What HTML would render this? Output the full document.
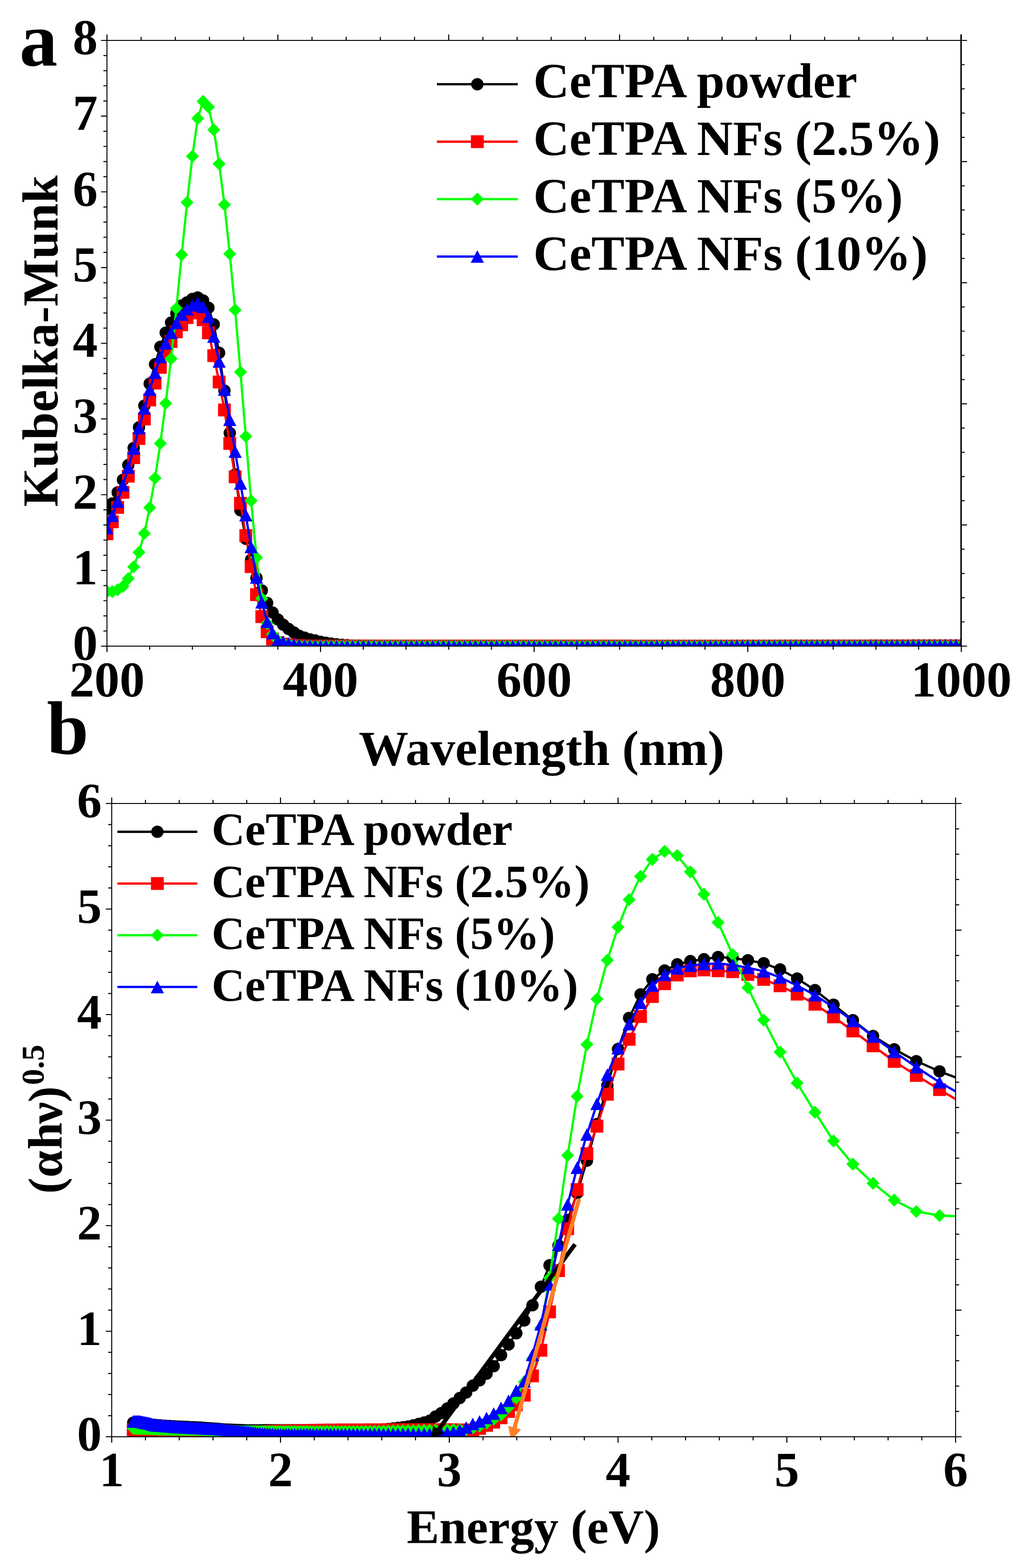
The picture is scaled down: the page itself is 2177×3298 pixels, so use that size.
<!DOCTYPE html><html><head><meta charset="utf-8"><title>Kubelka-Munk</title><style>html,body{margin:0;padding:0;background:#fff}svg{display:block}text{font-family:"Liberation Serif","Times New Roman",serif;font-weight:bold;fill:#000}</style></head><body>
<svg width="2177" height="3298" viewBox="0 0 2177 3298">
<rect width="2177" height="3298" fill="#fff"/>
<defs><clipPath id="ca"><rect x="225" y="85" width="1797" height="1274"/></clipPath><clipPath id="cb"><rect x="235" y="1690" width="1775" height="1332"/></clipPath></defs>
<g clip-path="url(#ca)">
<polyline points="225,1070.8 236.2,1059 247.5,1035.7 258.7,1009.3 269.9,978.1 281.2,942.2 292.4,898.8 303.6,853.2 314.9,807 326.1,766.1 337.3,729.5 348.5,699.7 359.8,678.5 371,658.9 382.2,642.5 393.5,636 404.7,628.8 415.9,625.7 427.2,632 438.4,647.3 449.6,682.2 460.9,742.1 472.1,821.7 483.3,910.7 494.6,998.3 505.8,1073.3 517,1133 528.2,1177.5 539.5,1215.7 550.7,1242 561.9,1268.2 573.2,1288.2 584.4,1302.9 595.6,1313.9 606.9,1322.7 618.1,1330.2 629.3,1337.2 640.6,1341.3 651.8,1344.7 663,1347.1 674.2,1350 685.5,1352 696.7,1353.7 707.9,1355.2 719.2,1356.3 730.4,1357 741.6,1357.7 752.9,1358 764.1,1358.2 775.3,1358.3 786.6,1358.5 797.8,1358.5 809,1358.6 820.3,1358.6 831.5,1358.7 842.7,1358.7 854,1358.7 865.2,1358.7 876.4,1358.7 887.6,1358.7 898.9,1358.7 910.1,1358.7 921.3,1358.7 932.6,1358.7 943.8,1358.7 955,1358.7 966.3,1358.7 977.5,1358.7 988.7,1358.7 1000,1358.7 1011.2,1358.7 1022.4,1358.7 1033.7,1358.7 1044.9,1358.7 1056.1,1358.7 1067.3,1358.7 1078.6,1358.7 1089.8,1358.7 1101,1358.7 1112.3,1358.7 1123.5,1358.7 1134.7,1358.7 1146,1358.7 1157.2,1358.7 1168.4,1358.7 1179.7,1358.7 1190.9,1358.7 1202.1,1358.7 1213.3,1358.7 1224.6,1358.7 1235.8,1358.7 1247,1358.7 1258.3,1358.7 1269.5,1358.7 1280.7,1358.7 1292,1358.7 1303.2,1358.7 1314.4,1358.7 1325.7,1358.7 1336.9,1358.7 1348.1,1358.6 1359.4,1358.6 1370.6,1358.6 1381.8,1358.6 1393,1358.6 1404.3,1358.6 1415.5,1358.6 1426.7,1358.6 1438,1358.6 1449.2,1358.5 1460.4,1358.5 1471.7,1358.5 1482.9,1358.5 1494.1,1358.4 1505.4,1358.4 1516.6,1358.4 1527.8,1358.4 1539.1,1358.4 1550.3,1358.3 1561.5,1358.3 1572.8,1358.3 1584,1358.3 1595.2,1358.2 1606.4,1358.2 1617.7,1358.2 1628.9,1358.2 1640.1,1358.2 1651.4,1358.1 1662.6,1358.1 1673.8,1358.1 1685.1,1358.1 1696.3,1358.1 1707.5,1358.1 1718.8,1358 1730,1358 1741.2,1358 1752.5,1358 1763.7,1358 1774.9,1357.9 1786.1,1357.9 1797.4,1357.9 1808.6,1357.9 1819.8,1357.9 1831.1,1357.8 1842.3,1357.8 1853.5,1357.8 1864.8,1357.8 1876,1357.7 1887.2,1357.7 1898.5,1357.7 1909.7,1357.7 1920.9,1357.6 1932.2,1357.6 1943.4,1357.6 1954.6,1357.5 1965.8,1357.5 1977.1,1357.5 1988.3,1357.4 1999.5,1357.4 2010.8,1357.4 2022,1357.3 2033.2,1357.3" fill="none" stroke="#000000" stroke-width="4.8" stroke-linejoin="round"/>
<path d="M212 1070.8a13 13 0 1 0 26 0a13 13 0 1 0-26 0M223.2 1059a13 13 0 1 0 26 0a13 13 0 1 0-26 0M234.5 1035.7a13 13 0 1 0 26 0a13 13 0 1 0-26 0M245.7 1009.3a13 13 0 1 0 26 0a13 13 0 1 0-26 0M256.9 978.1a13 13 0 1 0 26 0a13 13 0 1 0-26 0M268.2 942.2a13 13 0 1 0 26 0a13 13 0 1 0-26 0M279.4 898.8a13 13 0 1 0 26 0a13 13 0 1 0-26 0M290.6 853.2a13 13 0 1 0 26 0a13 13 0 1 0-26 0M301.9 807a13 13 0 1 0 26 0a13 13 0 1 0-26 0M313.1 766.1a13 13 0 1 0 26 0a13 13 0 1 0-26 0M324.3 729.5a13 13 0 1 0 26 0a13 13 0 1 0-26 0M335.5 699.7a13 13 0 1 0 26 0a13 13 0 1 0-26 0M346.8 678.5a13 13 0 1 0 26 0a13 13 0 1 0-26 0M358 658.9a13 13 0 1 0 26 0a13 13 0 1 0-26 0M369.2 642.5a13 13 0 1 0 26 0a13 13 0 1 0-26 0M380.5 636a13 13 0 1 0 26 0a13 13 0 1 0-26 0M391.7 628.8a13 13 0 1 0 26 0a13 13 0 1 0-26 0M402.9 625.7a13 13 0 1 0 26 0a13 13 0 1 0-26 0M414.2 632a13 13 0 1 0 26 0a13 13 0 1 0-26 0M425.4 647.3a13 13 0 1 0 26 0a13 13 0 1 0-26 0M436.6 682.2a13 13 0 1 0 26 0a13 13 0 1 0-26 0M447.9 742.1a13 13 0 1 0 26 0a13 13 0 1 0-26 0M459.1 821.7a13 13 0 1 0 26 0a13 13 0 1 0-26 0M470.3 910.7a13 13 0 1 0 26 0a13 13 0 1 0-26 0M481.6 998.3a13 13 0 1 0 26 0a13 13 0 1 0-26 0M492.8 1073.3a13 13 0 1 0 26 0a13 13 0 1 0-26 0M504 1133a13 13 0 1 0 26 0a13 13 0 1 0-26 0M515.2 1177.5a13 13 0 1 0 26 0a13 13 0 1 0-26 0M526.5 1215.7a13 13 0 1 0 26 0a13 13 0 1 0-26 0M537.7 1242a13 13 0 1 0 26 0a13 13 0 1 0-26 0M548.9 1268.2a13 13 0 1 0 26 0a13 13 0 1 0-26 0M560.2 1288.2a13 13 0 1 0 26 0a13 13 0 1 0-26 0M571.4 1302.9a13 13 0 1 0 26 0a13 13 0 1 0-26 0M582.6 1313.9a13 13 0 1 0 26 0a13 13 0 1 0-26 0M593.9 1322.7a13 13 0 1 0 26 0a13 13 0 1 0-26 0M605.1 1330.2a13 13 0 1 0 26 0a13 13 0 1 0-26 0M616.3 1337.2a13 13 0 1 0 26 0a13 13 0 1 0-26 0M627.6 1341.3a13 13 0 1 0 26 0a13 13 0 1 0-26 0M638.8 1344.7a13 13 0 1 0 26 0a13 13 0 1 0-26 0M650 1347.1a13 13 0 1 0 26 0a13 13 0 1 0-26 0M661.2 1350a13 13 0 1 0 26 0a13 13 0 1 0-26 0M672.5 1352a13 13 0 1 0 26 0a13 13 0 1 0-26 0M683.7 1353.7a13 13 0 1 0 26 0a13 13 0 1 0-26 0M694.9 1355.2a13 13 0 1 0 26 0a13 13 0 1 0-26 0M706.2 1356.3a13 13 0 1 0 26 0a13 13 0 1 0-26 0M717.4 1357a13 13 0 1 0 26 0a13 13 0 1 0-26 0M728.6 1357.7a13 13 0 1 0 26 0a13 13 0 1 0-26 0M739.9 1358a13 13 0 1 0 26 0a13 13 0 1 0-26 0M751.1 1358.2a13 13 0 1 0 26 0a13 13 0 1 0-26 0M762.3 1358.3a13 13 0 1 0 26 0a13 13 0 1 0-26 0M773.6 1358.5a13 13 0 1 0 26 0a13 13 0 1 0-26 0M784.8 1358.5a13 13 0 1 0 26 0a13 13 0 1 0-26 0M796 1358.6a13 13 0 1 0 26 0a13 13 0 1 0-26 0M807.3 1358.6a13 13 0 1 0 26 0a13 13 0 1 0-26 0M818.5 1358.7a13 13 0 1 0 26 0a13 13 0 1 0-26 0M829.7 1358.7a13 13 0 1 0 26 0a13 13 0 1 0-26 0M841 1358.7a13 13 0 1 0 26 0a13 13 0 1 0-26 0M852.2 1358.7a13 13 0 1 0 26 0a13 13 0 1 0-26 0M863.4 1358.7a13 13 0 1 0 26 0a13 13 0 1 0-26 0M874.6 1358.7a13 13 0 1 0 26 0a13 13 0 1 0-26 0M885.9 1358.7a13 13 0 1 0 26 0a13 13 0 1 0-26 0M897.1 1358.7a13 13 0 1 0 26 0a13 13 0 1 0-26 0M908.3 1358.7a13 13 0 1 0 26 0a13 13 0 1 0-26 0M919.6 1358.7a13 13 0 1 0 26 0a13 13 0 1 0-26 0M930.8 1358.7a13 13 0 1 0 26 0a13 13 0 1 0-26 0M942 1358.7a13 13 0 1 0 26 0a13 13 0 1 0-26 0M953.3 1358.7a13 13 0 1 0 26 0a13 13 0 1 0-26 0M964.5 1358.7a13 13 0 1 0 26 0a13 13 0 1 0-26 0M975.7 1358.7a13 13 0 1 0 26 0a13 13 0 1 0-26 0M987 1358.7a13 13 0 1 0 26 0a13 13 0 1 0-26 0M998.2 1358.7a13 13 0 1 0 26 0a13 13 0 1 0-26 0M1009.4 1358.7a13 13 0 1 0 26 0a13 13 0 1 0-26 0M1020.7 1358.7a13 13 0 1 0 26 0a13 13 0 1 0-26 0M1031.9 1358.7a13 13 0 1 0 26 0a13 13 0 1 0-26 0M1043.1 1358.7a13 13 0 1 0 26 0a13 13 0 1 0-26 0M1054.3 1358.7a13 13 0 1 0 26 0a13 13 0 1 0-26 0M1065.6 1358.7a13 13 0 1 0 26 0a13 13 0 1 0-26 0M1076.8 1358.7a13 13 0 1 0 26 0a13 13 0 1 0-26 0M1088 1358.7a13 13 0 1 0 26 0a13 13 0 1 0-26 0M1099.3 1358.7a13 13 0 1 0 26 0a13 13 0 1 0-26 0M1110.5 1358.7a13 13 0 1 0 26 0a13 13 0 1 0-26 0M1121.7 1358.7a13 13 0 1 0 26 0a13 13 0 1 0-26 0M1133 1358.7a13 13 0 1 0 26 0a13 13 0 1 0-26 0M1144.2 1358.7a13 13 0 1 0 26 0a13 13 0 1 0-26 0M1155.4 1358.7a13 13 0 1 0 26 0a13 13 0 1 0-26 0M1166.7 1358.7a13 13 0 1 0 26 0a13 13 0 1 0-26 0M1177.9 1358.7a13 13 0 1 0 26 0a13 13 0 1 0-26 0M1189.1 1358.7a13 13 0 1 0 26 0a13 13 0 1 0-26 0M1200.3 1358.7a13 13 0 1 0 26 0a13 13 0 1 0-26 0M1211.6 1358.7a13 13 0 1 0 26 0a13 13 0 1 0-26 0M1222.8 1358.7a13 13 0 1 0 26 0a13 13 0 1 0-26 0M1234 1358.7a13 13 0 1 0 26 0a13 13 0 1 0-26 0M1245.3 1358.7a13 13 0 1 0 26 0a13 13 0 1 0-26 0M1256.5 1358.7a13 13 0 1 0 26 0a13 13 0 1 0-26 0M1267.7 1358.7a13 13 0 1 0 26 0a13 13 0 1 0-26 0M1279 1358.7a13 13 0 1 0 26 0a13 13 0 1 0-26 0M1290.2 1358.7a13 13 0 1 0 26 0a13 13 0 1 0-26 0M1301.4 1358.7a13 13 0 1 0 26 0a13 13 0 1 0-26 0M1312.7 1358.7a13 13 0 1 0 26 0a13 13 0 1 0-26 0M1323.9 1358.7a13 13 0 1 0 26 0a13 13 0 1 0-26 0M1335.1 1358.6a13 13 0 1 0 26 0a13 13 0 1 0-26 0M1346.4 1358.6a13 13 0 1 0 26 0a13 13 0 1 0-26 0M1357.6 1358.6a13 13 0 1 0 26 0a13 13 0 1 0-26 0M1368.8 1358.6a13 13 0 1 0 26 0a13 13 0 1 0-26 0M1380 1358.6a13 13 0 1 0 26 0a13 13 0 1 0-26 0M1391.3 1358.6a13 13 0 1 0 26 0a13 13 0 1 0-26 0M1402.5 1358.6a13 13 0 1 0 26 0a13 13 0 1 0-26 0M1413.7 1358.6a13 13 0 1 0 26 0a13 13 0 1 0-26 0M1425 1358.6a13 13 0 1 0 26 0a13 13 0 1 0-26 0M1436.2 1358.5a13 13 0 1 0 26 0a13 13 0 1 0-26 0M1447.4 1358.5a13 13 0 1 0 26 0a13 13 0 1 0-26 0M1458.7 1358.5a13 13 0 1 0 26 0a13 13 0 1 0-26 0M1469.9 1358.5a13 13 0 1 0 26 0a13 13 0 1 0-26 0M1481.1 1358.4a13 13 0 1 0 26 0a13 13 0 1 0-26 0M1492.4 1358.4a13 13 0 1 0 26 0a13 13 0 1 0-26 0M1503.6 1358.4a13 13 0 1 0 26 0a13 13 0 1 0-26 0M1514.8 1358.4a13 13 0 1 0 26 0a13 13 0 1 0-26 0M1526.1 1358.4a13 13 0 1 0 26 0a13 13 0 1 0-26 0M1537.3 1358.3a13 13 0 1 0 26 0a13 13 0 1 0-26 0M1548.5 1358.3a13 13 0 1 0 26 0a13 13 0 1 0-26 0M1559.8 1358.3a13 13 0 1 0 26 0a13 13 0 1 0-26 0M1571 1358.3a13 13 0 1 0 26 0a13 13 0 1 0-26 0M1582.2 1358.2a13 13 0 1 0 26 0a13 13 0 1 0-26 0M1593.4 1358.2a13 13 0 1 0 26 0a13 13 0 1 0-26 0M1604.7 1358.2a13 13 0 1 0 26 0a13 13 0 1 0-26 0M1615.9 1358.2a13 13 0 1 0 26 0a13 13 0 1 0-26 0M1627.1 1358.2a13 13 0 1 0 26 0a13 13 0 1 0-26 0M1638.4 1358.1a13 13 0 1 0 26 0a13 13 0 1 0-26 0M1649.6 1358.1a13 13 0 1 0 26 0a13 13 0 1 0-26 0M1660.8 1358.1a13 13 0 1 0 26 0a13 13 0 1 0-26 0M1672.1 1358.1a13 13 0 1 0 26 0a13 13 0 1 0-26 0M1683.3 1358.1a13 13 0 1 0 26 0a13 13 0 1 0-26 0M1694.5 1358.1a13 13 0 1 0 26 0a13 13 0 1 0-26 0M1705.8 1358a13 13 0 1 0 26 0a13 13 0 1 0-26 0M1717 1358a13 13 0 1 0 26 0a13 13 0 1 0-26 0M1728.2 1358a13 13 0 1 0 26 0a13 13 0 1 0-26 0M1739.5 1358a13 13 0 1 0 26 0a13 13 0 1 0-26 0M1750.7 1358a13 13 0 1 0 26 0a13 13 0 1 0-26 0M1761.9 1357.9a13 13 0 1 0 26 0a13 13 0 1 0-26 0M1773.1 1357.9a13 13 0 1 0 26 0a13 13 0 1 0-26 0M1784.4 1357.9a13 13 0 1 0 26 0a13 13 0 1 0-26 0M1795.6 1357.9a13 13 0 1 0 26 0a13 13 0 1 0-26 0M1806.8 1357.9a13 13 0 1 0 26 0a13 13 0 1 0-26 0M1818.1 1357.8a13 13 0 1 0 26 0a13 13 0 1 0-26 0M1829.3 1357.8a13 13 0 1 0 26 0a13 13 0 1 0-26 0M1840.5 1357.8a13 13 0 1 0 26 0a13 13 0 1 0-26 0M1851.8 1357.8a13 13 0 1 0 26 0a13 13 0 1 0-26 0M1863 1357.7a13 13 0 1 0 26 0a13 13 0 1 0-26 0M1874.2 1357.7a13 13 0 1 0 26 0a13 13 0 1 0-26 0M1885.5 1357.7a13 13 0 1 0 26 0a13 13 0 1 0-26 0M1896.7 1357.7a13 13 0 1 0 26 0a13 13 0 1 0-26 0M1907.9 1357.6a13 13 0 1 0 26 0a13 13 0 1 0-26 0M1919.2 1357.6a13 13 0 1 0 26 0a13 13 0 1 0-26 0M1930.4 1357.6a13 13 0 1 0 26 0a13 13 0 1 0-26 0M1941.6 1357.5a13 13 0 1 0 26 0a13 13 0 1 0-26 0M1952.8 1357.5a13 13 0 1 0 26 0a13 13 0 1 0-26 0M1964.1 1357.5a13 13 0 1 0 26 0a13 13 0 1 0-26 0M1975.3 1357.4a13 13 0 1 0 26 0a13 13 0 1 0-26 0M1986.5 1357.4a13 13 0 1 0 26 0a13 13 0 1 0-26 0M1997.8 1357.4a13 13 0 1 0 26 0a13 13 0 1 0-26 0M2009 1357.3a13 13 0 1 0 26 0a13 13 0 1 0-26 0M2020.2 1357.3a13 13 0 1 0 26 0a13 13 0 1 0-26 0" fill="#000000"/>
<polyline points="225,1122.7 236.2,1097.4 247.5,1067.3 258.7,1035.4 269.9,1001.6 281.2,962.6 292.4,922.3 303.6,881.2 314.9,841.3 326.1,805.8 337.3,772.8 348.5,744 359.8,718.3 371,698.1 382.2,683 393.5,667.9 404.7,658.3 415.9,658.3 427.2,672.6 438.4,699.9 449.6,748 460.9,803.5 472.1,862.3 483.3,932.8 494.6,1003.1 505.8,1058.7 517,1126.5 528.2,1191.8 539.5,1250.7 550.7,1296.9 561.9,1328.7 573.2,1343.9 584.4,1351.8 595.6,1354.7 606.9,1356.3 618.1,1357.4 629.3,1358.1 640.6,1358.4 651.8,1358.7 663,1358.8 674.2,1358.8 685.5,1358.8 696.7,1358.8 707.9,1358.8 719.2,1358.8 730.4,1358.8 741.6,1358.8 752.9,1358.7 764.1,1358.7 775.3,1358.7 786.6,1358.7 797.8,1358.7 809,1358.7 820.3,1358.7 831.5,1358.7 842.7,1358.7 854,1358.7 865.2,1358.7 876.4,1358.7 887.6,1358.7 898.9,1358.7 910.1,1358.7 921.3,1358.7 932.6,1358.7 943.8,1358.7 955,1358.7 966.3,1358.7 977.5,1358.7 988.7,1358.7 1000,1358.7 1011.2,1358.7 1022.4,1358.7 1033.7,1358.7 1044.9,1358.7 1056.1,1358.7 1067.3,1358.7 1078.6,1358.7 1089.8,1358.7 1101,1358.7 1112.3,1358.7 1123.5,1358.7 1134.7,1358.8 1146,1358.8 1157.2,1358.8 1168.4,1358.8 1179.7,1358.8 1190.9,1358.8 1202.1,1358.8 1213.3,1358.8 1224.6,1358.8 1235.8,1358.8 1247,1358.8 1258.3,1358.8 1269.5,1358.8 1280.7,1358.8 1292,1358.8 1303.2,1358.8 1314.4,1358.8 1325.7,1358.9 1336.9,1358.9 1348.1,1358.9 1359.4,1358.9 1370.6,1358.9 1381.8,1358.9 1393,1358.9 1404.3,1358.9 1415.5,1358.9 1426.7,1358.9 1438,1358.9 1449.2,1358.9 1460.4,1358.9 1471.7,1358.9 1482.9,1358.9 1494.1,1358.9 1505.4,1358.9 1516.6,1358.9 1527.8,1358.9 1539.1,1358.9 1550.3,1358.9 1561.5,1358.9 1572.8,1358.9 1584,1358.9 1595.2,1358.9 1606.4,1358.9 1617.7,1358.9 1628.9,1358.9 1640.1,1358.9 1651.4,1358.9 1662.6,1358.9 1673.8,1358.9 1685.1,1358.9 1696.3,1358.9 1707.5,1358.9 1718.8,1358.9 1730,1358.9 1741.2,1358.9 1752.5,1358.9 1763.7,1358.8 1774.9,1358.8 1786.1,1358.8 1797.4,1358.8 1808.6,1358.8 1819.8,1358.8 1831.1,1358.8 1842.3,1358.8 1853.5,1358.8 1864.8,1358.8 1876,1358.8 1887.2,1358.8 1898.5,1358.8 1909.7,1358.8 1920.9,1358.8 1932.2,1358.8 1943.4,1358.8 1954.6,1358.8 1965.8,1358.8 1977.1,1358.7 1988.3,1358.7 1999.5,1358.7 2010.8,1358.7 2022,1358.7 2033.2,1358.7" fill="none" stroke="#ff0000" stroke-width="4.8" stroke-linejoin="round"/>
<path d="M211.5 1109.2h27v27h-27zM222.7 1083.9h27v27h-27zM234 1053.8h27v27h-27zM245.2 1021.9h27v27h-27zM256.4 988.1h27v27h-27zM267.7 949.1h27v27h-27zM278.9 908.8h27v27h-27zM290.1 867.8h27v27h-27zM301.4 827.8h27v27h-27zM312.6 792.3h27v27h-27zM323.8 759.3h27v27h-27zM335 730.5h27v27h-27zM346.3 704.8h27v27h-27zM357.5 684.6h27v27h-27zM368.7 669.5h27v27h-27zM380 654.4h27v27h-27zM391.2 644.8h27v27h-27zM402.4 644.8h27v27h-27zM413.7 659.1h27v27h-27zM424.9 686.4h27v27h-27zM436.1 734.5h27v27h-27zM447.4 790h27v27h-27zM458.6 848.8h27v27h-27zM469.8 919.3h27v27h-27zM481.1 989.6h27v27h-27zM492.3 1045.2h27v27h-27zM503.5 1113h27v27h-27zM514.7 1178.3h27v27h-27zM526 1237.2h27v27h-27zM537.2 1283.4h27v27h-27zM548.4 1315.2h27v27h-27zM559.7 1330.4h27v27h-27zM570.9 1338.3h27v27h-27zM582.1 1341.2h27v27h-27zM593.4 1342.8h27v27h-27zM604.6 1343.9h27v27h-27zM615.8 1344.6h27v27h-27zM627.1 1344.9h27v27h-27zM638.3 1345.2h27v27h-27zM649.5 1345.3h27v27h-27zM660.8 1345.3h27v27h-27zM672 1345.3h27v27h-27zM683.2 1345.3h27v27h-27zM694.4 1345.3h27v27h-27zM705.7 1345.3h27v27h-27zM716.9 1345.3h27v27h-27zM728.1 1345.3h27v27h-27zM739.4 1345.2h27v27h-27zM750.6 1345.2h27v27h-27zM761.8 1345.2h27v27h-27zM773.1 1345.2h27v27h-27zM784.3 1345.2h27v27h-27zM795.5 1345.2h27v27h-27zM806.8 1345.2h27v27h-27zM818 1345.2h27v27h-27zM829.2 1345.2h27v27h-27zM840.5 1345.2h27v27h-27zM851.7 1345.2h27v27h-27zM862.9 1345.2h27v27h-27zM874.1 1345.2h27v27h-27zM885.4 1345.2h27v27h-27zM896.6 1345.2h27v27h-27zM907.8 1345.2h27v27h-27zM919.1 1345.2h27v27h-27zM930.3 1345.2h27v27h-27zM941.5 1345.2h27v27h-27zM952.8 1345.2h27v27h-27zM964 1345.2h27v27h-27zM975.2 1345.2h27v27h-27zM986.5 1345.2h27v27h-27zM997.7 1345.2h27v27h-27zM1008.9 1345.2h27v27h-27zM1020.2 1345.2h27v27h-27zM1031.4 1345.2h27v27h-27zM1042.6 1345.2h27v27h-27zM1053.8 1345.2h27v27h-27zM1065.1 1345.2h27v27h-27zM1076.3 1345.2h27v27h-27zM1087.5 1345.2h27v27h-27zM1098.8 1345.2h27v27h-27zM1110 1345.2h27v27h-27zM1121.2 1345.3h27v27h-27zM1132.5 1345.3h27v27h-27zM1143.7 1345.3h27v27h-27zM1154.9 1345.3h27v27h-27zM1166.2 1345.3h27v27h-27zM1177.4 1345.3h27v27h-27zM1188.6 1345.3h27v27h-27zM1199.8 1345.3h27v27h-27zM1211.1 1345.3h27v27h-27zM1222.3 1345.3h27v27h-27zM1233.5 1345.3h27v27h-27zM1244.8 1345.3h27v27h-27zM1256 1345.3h27v27h-27zM1267.2 1345.3h27v27h-27zM1278.5 1345.3h27v27h-27zM1289.7 1345.3h27v27h-27zM1300.9 1345.3h27v27h-27zM1312.2 1345.4h27v27h-27zM1323.4 1345.4h27v27h-27zM1334.6 1345.4h27v27h-27zM1345.9 1345.4h27v27h-27zM1357.1 1345.4h27v27h-27zM1368.3 1345.4h27v27h-27zM1379.5 1345.4h27v27h-27zM1390.8 1345.4h27v27h-27zM1402 1345.4h27v27h-27zM1413.2 1345.4h27v27h-27zM1424.5 1345.4h27v27h-27zM1435.7 1345.4h27v27h-27zM1446.9 1345.4h27v27h-27zM1458.2 1345.4h27v27h-27zM1469.4 1345.4h27v27h-27zM1480.6 1345.4h27v27h-27zM1491.9 1345.4h27v27h-27zM1503.1 1345.4h27v27h-27zM1514.3 1345.4h27v27h-27zM1525.6 1345.4h27v27h-27zM1536.8 1345.4h27v27h-27zM1548 1345.4h27v27h-27zM1559.2 1345.4h27v27h-27zM1570.5 1345.4h27v27h-27zM1581.7 1345.4h27v27h-27zM1592.9 1345.4h27v27h-27zM1604.2 1345.4h27v27h-27zM1615.4 1345.4h27v27h-27zM1626.6 1345.4h27v27h-27zM1637.9 1345.4h27v27h-27zM1649.1 1345.4h27v27h-27zM1660.3 1345.4h27v27h-27zM1671.6 1345.4h27v27h-27zM1682.8 1345.4h27v27h-27zM1694 1345.4h27v27h-27zM1705.3 1345.4h27v27h-27zM1716.5 1345.4h27v27h-27zM1727.7 1345.4h27v27h-27zM1739 1345.4h27v27h-27zM1750.2 1345.3h27v27h-27zM1761.4 1345.3h27v27h-27zM1772.6 1345.3h27v27h-27zM1783.9 1345.3h27v27h-27zM1795.1 1345.3h27v27h-27zM1806.3 1345.3h27v27h-27zM1817.6 1345.3h27v27h-27zM1828.8 1345.3h27v27h-27zM1840 1345.3h27v27h-27zM1851.3 1345.3h27v27h-27zM1862.5 1345.3h27v27h-27zM1873.7 1345.3h27v27h-27zM1885 1345.3h27v27h-27zM1896.2 1345.3h27v27h-27zM1907.4 1345.3h27v27h-27zM1918.7 1345.3h27v27h-27zM1929.9 1345.3h27v27h-27zM1941.1 1345.3h27v27h-27zM1952.3 1345.3h27v27h-27zM1963.6 1345.2h27v27h-27zM1974.8 1345.2h27v27h-27zM1986 1345.2h27v27h-27zM1997.3 1345.2h27v27h-27zM2008.5 1345.2h27v27h-27zM2019.7 1345.2h27v27h-27z" fill="#ff0000"/>
<polyline points="225,1244.3 236.2,1244.3 247.5,1240.5 258.7,1233.2 269.9,1216.9 281.2,1192.3 292.4,1161.8 303.6,1121.9 314.9,1067.6 326.1,1005.6 337.3,932.4 348.5,848.4 359.8,754.5 371,648.7 382.2,535.7 393.5,425.8 404.7,328.7 415.9,249 427.2,213.2 438.4,225.1 449.6,272.9 460.9,344.6 472.1,430.6 483.3,534.1 494.6,651.9 505.8,782.5 517,917.9 528.2,1053.2 539.5,1172.7 550.7,1258.7 561.9,1311.2 573.2,1334.2 584.4,1346.6 595.6,1352.6 606.9,1355.3 618.1,1356.9 629.3,1357.6 640.6,1358.2 651.8,1358.5 663,1358.7 674.2,1358.8 685.5,1358.8 696.7,1358.8 707.9,1358.8 719.2,1358.8 730.4,1358.8 741.6,1358.8 752.9,1358.8 764.1,1358.8 775.3,1358.8 786.6,1358.8 797.8,1358.8 809,1358.8 820.3,1358.8 831.5,1358.8 842.7,1358.8 854,1358.8 865.2,1358.8 876.4,1358.8 887.6,1358.8 898.9,1358.8 910.1,1358.8 921.3,1358.8 932.6,1358.8 943.8,1358.8 955,1358.8 966.3,1358.8 977.5,1358.8 988.7,1358.8 1000,1358.8 1011.2,1358.8 1022.4,1358.8 1033.7,1358.8 1044.9,1358.8 1056.1,1358.8 1067.3,1358.8 1078.6,1358.8 1089.8,1358.8 1101,1358.8 1112.3,1358.8 1123.5,1358.8 1134.7,1358.8 1146,1358.8 1157.2,1358.8 1168.4,1358.8 1179.7,1358.8 1190.9,1358.8 1202.1,1358.8 1213.3,1358.8 1224.6,1358.8 1235.8,1358.8 1247,1358.8 1258.3,1358.8 1269.5,1358.8 1280.7,1358.8 1292,1358.8 1303.2,1358.8 1314.4,1358.8 1325.7,1358.8 1336.9,1358.8 1348.1,1358.8 1359.4,1358.8 1370.6,1358.7 1381.8,1358.7 1393,1358.7 1404.3,1358.7 1415.5,1358.7 1426.7,1358.7 1438,1358.7 1449.2,1358.7 1460.4,1358.7 1471.7,1358.7 1482.9,1358.7 1494.1,1358.6 1505.4,1358.6 1516.6,1358.6 1527.8,1358.6 1539.1,1358.6 1550.3,1358.6 1561.5,1358.6 1572.8,1358.6 1584,1358.6 1595.2,1358.5 1606.4,1358.5 1617.7,1358.5 1628.9,1358.5 1640.1,1358.5 1651.4,1358.5 1662.6,1358.5 1673.8,1358.5 1685.1,1358.5 1696.3,1358.5 1707.5,1358.5 1718.8,1358.5 1730,1358.5 1741.2,1358.5 1752.5,1358.5 1763.7,1358.5 1774.9,1358.5 1786.1,1358.5 1797.4,1358.5 1808.6,1358.4 1819.8,1358.4 1831.1,1358.4 1842.3,1358.4 1853.5,1358.4 1864.8,1358.4 1876,1358.4 1887.2,1358.4 1898.5,1358.4 1909.7,1358.4 1920.9,1358.4 1932.2,1358.3 1943.4,1358.3 1954.6,1358.3 1965.8,1358.3 1977.1,1358.3 1988.3,1358.3 1999.5,1358.3 2010.8,1358.3 2022,1358.3 2033.2,1358.2" fill="none" stroke="#00ff00" stroke-width="4.8" stroke-linejoin="round"/>
<path d="M225 1230.6l13.7 13.7-13.7 13.7-13.7-13.7zM236.2 1230.6l13.7 13.7-13.7 13.7-13.7-13.7zM247.5 1226.8l13.7 13.7-13.7 13.7-13.7-13.7zM258.7 1219.5l13.7 13.7-13.7 13.7-13.7-13.7zM269.9 1203.2l13.7 13.7-13.7 13.7-13.7-13.7zM281.2 1178.6l13.7 13.7-13.7 13.7-13.7-13.7zM292.4 1148.1l13.7 13.7-13.7 13.7-13.7-13.7zM303.6 1108.2l13.7 13.7-13.7 13.7-13.7-13.7zM314.9 1053.9l13.7 13.7-13.7 13.7-13.7-13.7zM326.1 991.9l13.7 13.7-13.7 13.7-13.7-13.7zM337.3 918.7l13.7 13.7-13.7 13.7-13.7-13.7zM348.5 834.7l13.7 13.7-13.7 13.7-13.7-13.7zM359.8 740.8l13.7 13.7-13.7 13.7-13.7-13.7zM371 635l13.7 13.7-13.7 13.7-13.7-13.7zM382.2 522l13.7 13.7-13.7 13.7-13.7-13.7zM393.5 412.1l13.7 13.7-13.7 13.7-13.7-13.7zM404.7 315l13.7 13.7-13.7 13.7-13.7-13.7zM415.9 235.3l13.7 13.7-13.7 13.7-13.7-13.7zM427.2 199.5l13.7 13.7-13.7 13.7-13.7-13.7zM438.4 211.4l13.7 13.7-13.7 13.7-13.7-13.7zM449.6 259.2l13.7 13.7-13.7 13.7-13.7-13.7zM460.9 330.9l13.7 13.7-13.7 13.7-13.7-13.7zM472.1 416.9l13.7 13.7-13.7 13.7-13.7-13.7zM483.3 520.4l13.7 13.7-13.7 13.7-13.7-13.7zM494.6 638.2l13.7 13.7-13.7 13.7-13.7-13.7zM505.8 768.8l13.7 13.7-13.7 13.7-13.7-13.7zM517 904.2l13.7 13.7-13.7 13.7-13.7-13.7zM528.2 1039.5l13.7 13.7-13.7 13.7-13.7-13.7zM539.5 1159l13.7 13.7-13.7 13.7-13.7-13.7zM550.7 1245l13.7 13.7-13.7 13.7-13.7-13.7zM561.9 1297.5l13.7 13.7-13.7 13.7-13.7-13.7zM573.2 1320.5l13.7 13.7-13.7 13.7-13.7-13.7zM584.4 1332.9l13.7 13.7-13.7 13.7-13.7-13.7zM595.6 1338.9l13.7 13.7-13.7 13.7-13.7-13.7zM606.9 1341.6l13.7 13.7-13.7 13.7-13.7-13.7zM618.1 1343.2l13.7 13.7-13.7 13.7-13.7-13.7zM629.3 1343.9l13.7 13.7-13.7 13.7-13.7-13.7zM640.6 1344.5l13.7 13.7-13.7 13.7-13.7-13.7zM651.8 1344.8l13.7 13.7-13.7 13.7-13.7-13.7zM663 1345l13.7 13.7-13.7 13.7-13.7-13.7zM674.2 1345.1l13.7 13.7-13.7 13.7-13.7-13.7zM685.5 1345.1l13.7 13.7-13.7 13.7-13.7-13.7zM696.7 1345.1l13.7 13.7-13.7 13.7-13.7-13.7zM707.9 1345.1l13.7 13.7-13.7 13.7-13.7-13.7zM719.2 1345.1l13.7 13.7-13.7 13.7-13.7-13.7zM730.4 1345.1l13.7 13.7-13.7 13.7-13.7-13.7zM741.6 1345.1l13.7 13.7-13.7 13.7-13.7-13.7zM752.9 1345.1l13.7 13.7-13.7 13.7-13.7-13.7zM764.1 1345.1l13.7 13.7-13.7 13.7-13.7-13.7zM775.3 1345.1l13.7 13.7-13.7 13.7-13.7-13.7zM786.6 1345.1l13.7 13.7-13.7 13.7-13.7-13.7zM797.8 1345.1l13.7 13.7-13.7 13.7-13.7-13.7zM809 1345.1l13.7 13.7-13.7 13.7-13.7-13.7zM820.3 1345.1l13.7 13.7-13.7 13.7-13.7-13.7zM831.5 1345.1l13.7 13.7-13.7 13.7-13.7-13.7zM842.7 1345.1l13.7 13.7-13.7 13.7-13.7-13.7zM854 1345.1l13.7 13.7-13.7 13.7-13.7-13.7zM865.2 1345.1l13.7 13.7-13.7 13.7-13.7-13.7zM876.4 1345.1l13.7 13.7-13.7 13.7-13.7-13.7zM887.6 1345.1l13.7 13.7-13.7 13.7-13.7-13.7zM898.9 1345.1l13.7 13.7-13.7 13.7-13.7-13.7zM910.1 1345.1l13.7 13.7-13.7 13.7-13.7-13.7zM921.3 1345.1l13.7 13.7-13.7 13.7-13.7-13.7zM932.6 1345.1l13.7 13.7-13.7 13.7-13.7-13.7zM943.8 1345.1l13.7 13.7-13.7 13.7-13.7-13.7zM955 1345.1l13.7 13.7-13.7 13.7-13.7-13.7zM966.3 1345.1l13.7 13.7-13.7 13.7-13.7-13.7zM977.5 1345.1l13.7 13.7-13.7 13.7-13.7-13.7zM988.7 1345.1l13.7 13.7-13.7 13.7-13.7-13.7zM1000 1345.1l13.7 13.7-13.7 13.7-13.7-13.7zM1011.2 1345.1l13.7 13.7-13.7 13.7-13.7-13.7zM1022.4 1345.1l13.7 13.7-13.7 13.7-13.7-13.7zM1033.7 1345.1l13.7 13.7-13.7 13.7-13.7-13.7zM1044.9 1345.1l13.7 13.7-13.7 13.7-13.7-13.7zM1056.1 1345.1l13.7 13.7-13.7 13.7-13.7-13.7zM1067.3 1345.1l13.7 13.7-13.7 13.7-13.7-13.7zM1078.6 1345.1l13.7 13.7-13.7 13.7-13.7-13.7zM1089.8 1345.1l13.7 13.7-13.7 13.7-13.7-13.7zM1101 1345.1l13.7 13.7-13.7 13.7-13.7-13.7zM1112.3 1345.1l13.7 13.7-13.7 13.7-13.7-13.7zM1123.5 1345.1l13.7 13.7-13.7 13.7-13.7-13.7zM1134.7 1345.1l13.7 13.7-13.7 13.7-13.7-13.7zM1146 1345.1l13.7 13.7-13.7 13.7-13.7-13.7zM1157.2 1345.1l13.7 13.7-13.7 13.7-13.7-13.7zM1168.4 1345.1l13.7 13.7-13.7 13.7-13.7-13.7zM1179.7 1345.1l13.7 13.7-13.7 13.7-13.7-13.7zM1190.9 1345.1l13.7 13.7-13.7 13.7-13.7-13.7zM1202.1 1345.1l13.7 13.7-13.7 13.7-13.7-13.7zM1213.3 1345.1l13.7 13.7-13.7 13.7-13.7-13.7zM1224.6 1345.1l13.7 13.7-13.7 13.7-13.7-13.7zM1235.8 1345.1l13.7 13.7-13.7 13.7-13.7-13.7zM1247 1345.1l13.7 13.7-13.7 13.7-13.7-13.7zM1258.3 1345.1l13.7 13.7-13.7 13.7-13.7-13.7zM1269.5 1345.1l13.7 13.7-13.7 13.7-13.7-13.7zM1280.7 1345.1l13.7 13.7-13.7 13.7-13.7-13.7zM1292 1345.1l13.7 13.7-13.7 13.7-13.7-13.7zM1303.2 1345.1l13.7 13.7-13.7 13.7-13.7-13.7zM1314.4 1345.1l13.7 13.7-13.7 13.7-13.7-13.7zM1325.7 1345.1l13.7 13.7-13.7 13.7-13.7-13.7zM1336.9 1345.1l13.7 13.7-13.7 13.7-13.7-13.7zM1348.1 1345.1l13.7 13.7-13.7 13.7-13.7-13.7zM1359.4 1345.1l13.7 13.7-13.7 13.7-13.7-13.7zM1370.6 1345l13.7 13.7-13.7 13.7-13.7-13.7zM1381.8 1345l13.7 13.7-13.7 13.7-13.7-13.7zM1393 1345l13.7 13.7-13.7 13.7-13.7-13.7zM1404.3 1345l13.7 13.7-13.7 13.7-13.7-13.7zM1415.5 1345l13.7 13.7-13.7 13.7-13.7-13.7zM1426.7 1345l13.7 13.7-13.7 13.7-13.7-13.7zM1438 1345l13.7 13.7-13.7 13.7-13.7-13.7zM1449.2 1345l13.7 13.7-13.7 13.7-13.7-13.7zM1460.4 1345l13.7 13.7-13.7 13.7-13.7-13.7zM1471.7 1345l13.7 13.7-13.7 13.7-13.7-13.7zM1482.9 1345l13.7 13.7-13.7 13.7-13.7-13.7zM1494.1 1344.9l13.7 13.7-13.7 13.7-13.7-13.7zM1505.4 1344.9l13.7 13.7-13.7 13.7-13.7-13.7zM1516.6 1344.9l13.7 13.7-13.7 13.7-13.7-13.7zM1527.8 1344.9l13.7 13.7-13.7 13.7-13.7-13.7zM1539.1 1344.9l13.7 13.7-13.7 13.7-13.7-13.7zM1550.3 1344.9l13.7 13.7-13.7 13.7-13.7-13.7zM1561.5 1344.9l13.7 13.7-13.7 13.7-13.7-13.7zM1572.8 1344.9l13.7 13.7-13.7 13.7-13.7-13.7zM1584 1344.9l13.7 13.7-13.7 13.7-13.7-13.7zM1595.2 1344.8l13.7 13.7-13.7 13.7-13.7-13.7zM1606.4 1344.8l13.7 13.7-13.7 13.7-13.7-13.7zM1617.7 1344.8l13.7 13.7-13.7 13.7-13.7-13.7zM1628.9 1344.8l13.7 13.7-13.7 13.7-13.7-13.7zM1640.1 1344.8l13.7 13.7-13.7 13.7-13.7-13.7zM1651.4 1344.8l13.7 13.7-13.7 13.7-13.7-13.7zM1662.6 1344.8l13.7 13.7-13.7 13.7-13.7-13.7zM1673.8 1344.8l13.7 13.7-13.7 13.7-13.7-13.7zM1685.1 1344.8l13.7 13.7-13.7 13.7-13.7-13.7zM1696.3 1344.8l13.7 13.7-13.7 13.7-13.7-13.7zM1707.5 1344.8l13.7 13.7-13.7 13.7-13.7-13.7zM1718.8 1344.8l13.7 13.7-13.7 13.7-13.7-13.7zM1730 1344.8l13.7 13.7-13.7 13.7-13.7-13.7zM1741.2 1344.8l13.7 13.7-13.7 13.7-13.7-13.7zM1752.5 1344.8l13.7 13.7-13.7 13.7-13.7-13.7zM1763.7 1344.8l13.7 13.7-13.7 13.7-13.7-13.7zM1774.9 1344.8l13.7 13.7-13.7 13.7-13.7-13.7zM1786.1 1344.8l13.7 13.7-13.7 13.7-13.7-13.7zM1797.4 1344.8l13.7 13.7-13.7 13.7-13.7-13.7zM1808.6 1344.7l13.7 13.7-13.7 13.7-13.7-13.7zM1819.8 1344.7l13.7 13.7-13.7 13.7-13.7-13.7zM1831.1 1344.7l13.7 13.7-13.7 13.7-13.7-13.7zM1842.3 1344.7l13.7 13.7-13.7 13.7-13.7-13.7zM1853.5 1344.7l13.7 13.7-13.7 13.7-13.7-13.7zM1864.8 1344.7l13.7 13.7-13.7 13.7-13.7-13.7zM1876 1344.7l13.7 13.7-13.7 13.7-13.7-13.7zM1887.2 1344.7l13.7 13.7-13.7 13.7-13.7-13.7zM1898.5 1344.7l13.7 13.7-13.7 13.7-13.7-13.7zM1909.7 1344.7l13.7 13.7-13.7 13.7-13.7-13.7zM1920.9 1344.7l13.7 13.7-13.7 13.7-13.7-13.7zM1932.2 1344.6l13.7 13.7-13.7 13.7-13.7-13.7zM1943.4 1344.6l13.7 13.7-13.7 13.7-13.7-13.7zM1954.6 1344.6l13.7 13.7-13.7 13.7-13.7-13.7zM1965.8 1344.6l13.7 13.7-13.7 13.7-13.7-13.7zM1977.1 1344.6l13.7 13.7-13.7 13.7-13.7-13.7zM1988.3 1344.6l13.7 13.7-13.7 13.7-13.7-13.7zM1999.5 1344.6l13.7 13.7-13.7 13.7-13.7-13.7zM2010.8 1344.6l13.7 13.7-13.7 13.7-13.7-13.7zM2022 1344.6l13.7 13.7-13.7 13.7-13.7-13.7zM2033.2 1344.5l13.7 13.7-13.7 13.7-13.7-13.7z" fill="#00ff00"/>
<polyline points="225,1110.7 236.2,1084.8 247.5,1054.7 258.7,1020.3 269.9,983.2 281.2,943.4 292.4,900.4 303.6,859 314.9,819.1 326.1,784.1 337.3,750.7 348.5,722 359.8,699.7 371,679 382.2,661.5 393.5,650.3 404.7,642.4 415.9,637.6 427.2,645.6 438.4,666.3 449.6,707.7 460.9,760.2 472.1,819.1 483.3,882.8 494.6,949.7 505.8,1016.6 517,1083.5 528.2,1150.4 539.5,1214.4 550.7,1266.6 561.9,1307.9 573.2,1331.5 584.4,1346.3 595.6,1350 606.9,1353.5 618.1,1355.4 629.3,1356.7 640.6,1357.4 651.8,1357.9 663,1358.3 674.2,1358.6 685.5,1358.8 696.7,1358.9 707.9,1358.9 719.2,1358.9 730.4,1358.9 741.6,1359 752.9,1359 764.1,1359 775.3,1359 786.6,1359 797.8,1359 809,1359 820.3,1359 831.5,1359 842.7,1359 854,1359 865.2,1359 876.4,1359 887.6,1359 898.9,1359 910.1,1359 921.3,1359 932.6,1359 943.8,1359 955,1359 966.3,1359 977.5,1359 988.7,1359 1000,1359 1011.2,1359 1022.4,1359 1033.7,1359 1044.9,1359 1056.1,1359 1067.3,1359 1078.6,1359 1089.8,1359 1101,1359 1112.3,1359 1123.5,1359 1134.7,1359 1146,1359 1157.2,1359 1168.4,1359 1179.7,1358.9 1190.9,1358.9 1202.1,1358.9 1213.3,1358.9 1224.6,1358.9 1235.8,1358.9 1247,1358.9 1258.3,1358.9 1269.5,1358.9 1280.7,1358.9 1292,1358.8 1303.2,1358.8 1314.4,1358.8 1325.7,1358.8 1336.9,1358.8 1348.1,1358.7 1359.4,1358.7 1370.6,1358.7 1381.8,1358.7 1393,1358.6 1404.3,1358.6 1415.5,1358.6 1426.7,1358.6 1438,1358.6 1449.2,1358.5 1460.4,1358.5 1471.7,1358.5 1482.9,1358.5 1494.1,1358.5 1505.4,1358.4 1516.6,1358.4 1527.8,1358.4 1539.1,1358.4 1550.3,1358.4 1561.5,1358.4 1572.8,1358.3 1584,1358.3 1595.2,1358.3 1606.4,1358.3 1617.7,1358.3 1628.9,1358.3 1640.1,1358.2 1651.4,1358.2 1662.6,1358.2 1673.8,1358.2 1685.1,1358.2 1696.3,1358.2 1707.5,1358.1 1718.8,1358.1 1730,1358.1 1741.2,1358.1 1752.5,1358.1 1763.7,1358 1774.9,1358 1786.1,1358 1797.4,1358 1808.6,1357.9 1819.8,1357.9 1831.1,1357.9 1842.3,1357.9 1853.5,1357.8 1864.8,1357.8 1876,1357.8 1887.2,1357.7 1898.5,1357.7 1909.7,1357.7 1920.9,1357.7 1932.2,1357.6 1943.4,1357.6 1954.6,1357.6 1965.8,1357.5 1977.1,1357.5 1988.3,1357.5 1999.5,1357.4 2010.8,1357.3 2022,1357.2 2033.2,1357.1" fill="none" stroke="#0000ff" stroke-width="4.8" stroke-linejoin="round"/>
<path d="M225 1097.5l13.9 26.5h-27.8zM236.2 1071.5l13.9 26.5h-27.8zM247.5 1041.4l13.9 26.5h-27.8zM258.7 1007l13.9 26.5h-27.8zM269.9 969.9l13.9 26.5h-27.8zM281.2 930.1l13.9 26.5h-27.8zM292.4 887.1l13.9 26.5h-27.8zM303.6 845.7l13.9 26.5h-27.8zM314.9 805.9l13.9 26.5h-27.8zM326.1 770.9l13.9 26.5h-27.8zM337.3 737.4l13.9 26.5h-27.8zM348.5 708.8l13.9 26.5h-27.8zM359.8 686.5l13.9 26.5h-27.8zM371 665.8l13.9 26.5h-27.8zM382.2 648.2l13.9 26.5h-27.8zM393.5 637.1l13.9 26.5h-27.8zM404.7 629.1l13.9 26.5h-27.8zM415.9 624.3l13.9 26.5h-27.8zM427.2 632.3l13.9 26.5h-27.8zM438.4 653l13.9 26.5h-27.8zM449.6 694.4l13.9 26.5h-27.8zM460.9 747l13.9 26.5h-27.8zM472.1 805.9l13.9 26.5h-27.8zM483.3 869.6l13.9 26.5h-27.8zM494.6 936.5l13.9 26.5h-27.8zM505.8 1003.4l13.9 26.5h-27.8zM517 1070.2l13.9 26.5h-27.8zM528.2 1137.1l13.9 26.5h-27.8zM539.5 1201.2l13.9 26.5h-27.8zM550.7 1253.4l13.9 26.5h-27.8zM561.9 1294.6l13.9 26.5h-27.8zM573.2 1318.3l13.9 26.5h-27.8zM584.4 1333l13.9 26.5h-27.8zM595.6 1336.8l13.9 26.5h-27.8zM606.9 1340.2l13.9 26.5h-27.8zM618.1 1342.1l13.9 26.5h-27.8zM629.3 1343.4l13.9 26.5h-27.8zM640.6 1344.2l13.9 26.5h-27.8zM651.8 1344.7l13.9 26.5h-27.8zM663 1345l13.9 26.5h-27.8zM674.2 1345.4l13.9 26.5h-27.8zM685.5 1345.6l13.9 26.5h-27.8zM696.7 1345.6l13.9 26.5h-27.8zM707.9 1345.7l13.9 26.5h-27.8zM719.2 1345.7l13.9 26.5h-27.8zM730.4 1345.7l13.9 26.5h-27.8zM741.6 1345.7l13.9 26.5h-27.8zM752.9 1345.7l13.9 26.5h-27.8zM764.1 1345.7l13.9 26.5h-27.8zM775.3 1345.7l13.9 26.5h-27.8zM786.6 1345.7l13.9 26.5h-27.8zM797.8 1345.7l13.9 26.5h-27.8zM809 1345.7l13.9 26.5h-27.8zM820.3 1345.7l13.9 26.5h-27.8zM831.5 1345.7l13.9 26.5h-27.8zM842.7 1345.7l13.9 26.5h-27.8zM854 1345.7l13.9 26.5h-27.8zM865.2 1345.7l13.9 26.5h-27.8zM876.4 1345.7l13.9 26.5h-27.8zM887.6 1345.7l13.9 26.5h-27.8zM898.9 1345.7l13.9 26.5h-27.8zM910.1 1345.7l13.9 26.5h-27.8zM921.3 1345.7l13.9 26.5h-27.8zM932.6 1345.7l13.9 26.5h-27.8zM943.8 1345.7l13.9 26.5h-27.8zM955 1345.7l13.9 26.5h-27.8zM966.3 1345.7l13.9 26.5h-27.8zM977.5 1345.7l13.9 26.5h-27.8zM988.7 1345.7l13.9 26.5h-27.8zM1000 1345.7l13.9 26.5h-27.8zM1011.2 1345.7l13.9 26.5h-27.8zM1022.4 1345.7l13.9 26.5h-27.8zM1033.7 1345.7l13.9 26.5h-27.8zM1044.9 1345.7l13.9 26.5h-27.8zM1056.1 1345.7l13.9 26.5h-27.8zM1067.3 1345.7l13.9 26.5h-27.8zM1078.6 1345.7l13.9 26.5h-27.8zM1089.8 1345.7l13.9 26.5h-27.8zM1101 1345.7l13.9 26.5h-27.8zM1112.3 1345.7l13.9 26.5h-27.8zM1123.5 1345.7l13.9 26.5h-27.8zM1134.7 1345.7l13.9 26.5h-27.8zM1146 1345.7l13.9 26.5h-27.8zM1157.2 1345.7l13.9 26.5h-27.8zM1168.4 1345.7l13.9 26.5h-27.8zM1179.7 1345.7l13.9 26.5h-27.8zM1190.9 1345.7l13.9 26.5h-27.8zM1202.1 1345.7l13.9 26.5h-27.8zM1213.3 1345.7l13.9 26.5h-27.8zM1224.6 1345.7l13.9 26.5h-27.8zM1235.8 1345.7l13.9 26.5h-27.8zM1247 1345.7l13.9 26.5h-27.8zM1258.3 1345.7l13.9 26.5h-27.8zM1269.5 1345.6l13.9 26.5h-27.8zM1280.7 1345.6l13.9 26.5h-27.8zM1292 1345.6l13.9 26.5h-27.8zM1303.2 1345.6l13.9 26.5h-27.8zM1314.4 1345.6l13.9 26.5h-27.8zM1325.7 1345.5l13.9 26.5h-27.8zM1336.9 1345.5l13.9 26.5h-27.8zM1348.1 1345.5l13.9 26.5h-27.8zM1359.4 1345.5l13.9 26.5h-27.8zM1370.6 1345.4l13.9 26.5h-27.8zM1381.8 1345.4l13.9 26.5h-27.8zM1393 1345.4l13.9 26.5h-27.8zM1404.3 1345.4l13.9 26.5h-27.8zM1415.5 1345.4l13.9 26.5h-27.8zM1426.7 1345.3l13.9 26.5h-27.8zM1438 1345.3l13.9 26.5h-27.8zM1449.2 1345.3l13.9 26.5h-27.8zM1460.4 1345.3l13.9 26.5h-27.8zM1471.7 1345.2l13.9 26.5h-27.8zM1482.9 1345.2l13.9 26.5h-27.8zM1494.1 1345.2l13.9 26.5h-27.8zM1505.4 1345.2l13.9 26.5h-27.8zM1516.6 1345.2l13.9 26.5h-27.8zM1527.8 1345.2l13.9 26.5h-27.8zM1539.1 1345.1l13.9 26.5h-27.8zM1550.3 1345.1l13.9 26.5h-27.8zM1561.5 1345.1l13.9 26.5h-27.8zM1572.8 1345.1l13.9 26.5h-27.8zM1584 1345.1l13.9 26.5h-27.8zM1595.2 1345.1l13.9 26.5h-27.8zM1606.4 1345l13.9 26.5h-27.8zM1617.7 1345l13.9 26.5h-27.8zM1628.9 1345l13.9 26.5h-27.8zM1640.1 1345l13.9 26.5h-27.8zM1651.4 1345l13.9 26.5h-27.8zM1662.6 1345l13.9 26.5h-27.8zM1673.8 1344.9l13.9 26.5h-27.8zM1685.1 1344.9l13.9 26.5h-27.8zM1696.3 1344.9l13.9 26.5h-27.8zM1707.5 1344.9l13.9 26.5h-27.8zM1718.8 1344.9l13.9 26.5h-27.8zM1730 1344.8l13.9 26.5h-27.8zM1741.2 1344.8l13.9 26.5h-27.8zM1752.5 1344.8l13.9 26.5h-27.8zM1763.7 1344.8l13.9 26.5h-27.8zM1774.9 1344.8l13.9 26.5h-27.8zM1786.1 1344.7l13.9 26.5h-27.8zM1797.4 1344.7l13.9 26.5h-27.8zM1808.6 1344.7l13.9 26.5h-27.8zM1819.8 1344.7l13.9 26.5h-27.8zM1831.1 1344.6l13.9 26.5h-27.8zM1842.3 1344.6l13.9 26.5h-27.8zM1853.5 1344.6l13.9 26.5h-27.8zM1864.8 1344.5l13.9 26.5h-27.8zM1876 1344.5l13.9 26.5h-27.8zM1887.2 1344.5l13.9 26.5h-27.8zM1898.5 1344.5l13.9 26.5h-27.8zM1909.7 1344.4l13.9 26.5h-27.8zM1920.9 1344.4l13.9 26.5h-27.8zM1932.2 1344.4l13.9 26.5h-27.8zM1943.4 1344.3l13.9 26.5h-27.8zM1954.6 1344.3l13.9 26.5h-27.8zM1965.8 1344.3l13.9 26.5h-27.8zM1977.1 1344.3l13.9 26.5h-27.8zM1988.3 1344.2l13.9 26.5h-27.8zM1999.5 1344.1l13.9 26.5h-27.8zM2010.8 1344l13.9 26.5h-27.8zM2022 1343.9l13.9 26.5h-27.8zM2033.2 1343.8l13.9 26.5h-27.8z" fill="#0000ff"/>
</g>
<g clip-path="url(#cb)">
<polyline points="2081,2278.3 2027.3,2272.6 1976.2,2253.4 1927.4,2231.9 1880.9,2206.9 1836.4,2178.9 1793.9,2145.7 1753.2,2113.2 1714.2,2082.6 1676.7,2058.3 1640.8,2039 1606.3,2025.9 1573.1,2019.8 1541.1,2015.1 1510.4,2012.9 1480.7,2017.6 1452.1,2021.6 1424.6,2028.3 1397.9,2041.2 1372.2,2059.8 1347.3,2091.5 1323.3,2141 1300,2206.4 1277.5,2283 1255.6,2364.3 1234.5,2441.2 1213.9,2509.4 1194,2566 1174.7,2619.8 1155.9,2661.2 1137.7,2706.5 1120,2745.4 1102.8,2777.4 1086,2804.3 1069.7,2827.9 1053.9,2850.3 1038.4,2873.6 1023.4,2889.3 1008.7,2903.2 994.4,2914.6 980.5,2928.9 966.9,2940.5 953.7,2951.9 940.7,2962.6 928.1,2972.3 915.8,2979.6 903.7,2988.3 892,2991.9 880.5,2995.1 869.2,2998 858.2,3000.5 847.5,3002 837,3003.3 826.7,3004.6 816.6,3005.7 806.7,3006.8 797.1,3007.7 787.6,3007.8 778.4,3007.9 769.3,3007.9 760.4,3008 751.7,3008.1 743.1,3008.2 734.8,3008.2 726.5,3008.3 718.5,3008.3 710.6,3008.3 702.8,3008.3 695.2,3008.3 687.7,3008.3 680.4,3008.3 673.2,3008.3 666.1,3008.3 659.1,3008.3 652.3,3008.3 645.6,3008.3 639,3008.3 632.5,3008.3 626.1,3008.3 619.8,3008.3 613.7,3008.3 607.6,3008.3 601.6,3008.3 595.8,3008.3 590,3008.3 584.3,3008.3 578.7,3008.3 573.2,3008.3 567.8,3008.3 562.5,3008.3 557.2,3008.3 552.1,3008.3 547,3008.4 542,3008.4 537,3008.4 532.1,3008.4 527.4,3008.4 522.6,3008.4 518,3008.4 513.4,3008.2 508.9,3008.1 504.4,3007.9 500,3007.8 495.7,3007.6 491.4,3007.4 487.2,3007.3 483,3007.1 478.9,3007 474.9,3006.8 470.9,3006.5 466.9,3006.2 463,3005.9 459.2,3005.6 455.4,3005.3 451.7,3005 448,3004.7 444.4,3004.4 440.8,3004.2 437.2,3003.9 433.7,3003.7 430.2,3003.4 426.8,3003.2 423.5,3002.9 420.1,3002.6 416.8,3002.5 413.6,3002.4 410.4,3002.3 407.2,3002.1 404,3002 400.9,3001.9 397.9,3001.8 394.9,3001.6 391.9,3001.5 388.9,3001.4 386,3001.2 383.1,3001.1 380.2,3001 377.4,3000.8 374.6,3000.7 371.8,3000.5 369.1,3000.4 366.4,3000.3 363.7,3000.1 361.1,3000 358.5,2999.8 355.9,2999.6 353.3,2999.5 350.8,2999.3 348.3,2999.1 345.8,2998.9 343.4,2998.7 340.9,2998.5 338.5,2998.3 336.2,2998.1 333.8,2997.9 331.5,2997.7 329.2,2997.5 326.9,2997.3 324.6,2997.1 322.4,2996.9 320.2,2996.7 318,2996.5 315.8,2996.3 313.7,2996.1 311.6,2995.9 309.5,2995.7 307.4,2995.5 305.3,2995.3 303.3,2995.1 301.2,2994.9 299.2,2994.7 297.3,2994.5 295.3,2994.2 293.3,2994 291.4,2993.8 289.5,2993.6 287.6,2993.4 285.7,2993.1 283.9,2992.9 282,2992.7 280.2,2992.5" fill="none" stroke="#000000" stroke-width="4.8" stroke-linejoin="round"/>
<path d="M2068 2278.3a13 13 0 1 0 26 0a13 13 0 1 0-26 0M2014.3 2272.6a13 13 0 1 0 26 0a13 13 0 1 0-26 0M1963.2 2253.4a13 13 0 1 0 26 0a13 13 0 1 0-26 0M1914.4 2231.9a13 13 0 1 0 26 0a13 13 0 1 0-26 0M1867.9 2206.9a13 13 0 1 0 26 0a13 13 0 1 0-26 0M1823.4 2178.9a13 13 0 1 0 26 0a13 13 0 1 0-26 0M1780.9 2145.7a13 13 0 1 0 26 0a13 13 0 1 0-26 0M1740.2 2113.2a13 13 0 1 0 26 0a13 13 0 1 0-26 0M1701.2 2082.6a13 13 0 1 0 26 0a13 13 0 1 0-26 0M1663.7 2058.3a13 13 0 1 0 26 0a13 13 0 1 0-26 0M1627.8 2039a13 13 0 1 0 26 0a13 13 0 1 0-26 0M1593.3 2025.9a13 13 0 1 0 26 0a13 13 0 1 0-26 0M1560.1 2019.8a13 13 0 1 0 26 0a13 13 0 1 0-26 0M1528.1 2015.1a13 13 0 1 0 26 0a13 13 0 1 0-26 0M1497.4 2012.9a13 13 0 1 0 26 0a13 13 0 1 0-26 0M1467.7 2017.6a13 13 0 1 0 26 0a13 13 0 1 0-26 0M1439.1 2021.6a13 13 0 1 0 26 0a13 13 0 1 0-26 0M1411.6 2028.3a13 13 0 1 0 26 0a13 13 0 1 0-26 0M1384.9 2041.2a13 13 0 1 0 26 0a13 13 0 1 0-26 0M1359.2 2059.8a13 13 0 1 0 26 0a13 13 0 1 0-26 0M1334.3 2091.5a13 13 0 1 0 26 0a13 13 0 1 0-26 0M1310.3 2141a13 13 0 1 0 26 0a13 13 0 1 0-26 0M1287 2206.4a13 13 0 1 0 26 0a13 13 0 1 0-26 0M1264.5 2283a13 13 0 1 0 26 0a13 13 0 1 0-26 0M1242.6 2364.3a13 13 0 1 0 26 0a13 13 0 1 0-26 0M1221.5 2441.2a13 13 0 1 0 26 0a13 13 0 1 0-26 0M1200.9 2509.4a13 13 0 1 0 26 0a13 13 0 1 0-26 0M1181 2566a13 13 0 1 0 26 0a13 13 0 1 0-26 0M1161.7 2619.8a13 13 0 1 0 26 0a13 13 0 1 0-26 0M1142.9 2661.2a13 13 0 1 0 26 0a13 13 0 1 0-26 0M1124.7 2706.5a13 13 0 1 0 26 0a13 13 0 1 0-26 0M1107 2745.4a13 13 0 1 0 26 0a13 13 0 1 0-26 0M1089.8 2777.4a13 13 0 1 0 26 0a13 13 0 1 0-26 0M1073 2804.3a13 13 0 1 0 26 0a13 13 0 1 0-26 0M1056.7 2827.9a13 13 0 1 0 26 0a13 13 0 1 0-26 0M1040.9 2850.3a13 13 0 1 0 26 0a13 13 0 1 0-26 0M1025.4 2873.6a13 13 0 1 0 26 0a13 13 0 1 0-26 0M1010.4 2889.3a13 13 0 1 0 26 0a13 13 0 1 0-26 0M995.7 2903.2a13 13 0 1 0 26 0a13 13 0 1 0-26 0M981.4 2914.6a13 13 0 1 0 26 0a13 13 0 1 0-26 0M967.5 2928.9a13 13 0 1 0 26 0a13 13 0 1 0-26 0M953.9 2940.5a13 13 0 1 0 26 0a13 13 0 1 0-26 0M940.7 2951.9a13 13 0 1 0 26 0a13 13 0 1 0-26 0M927.7 2962.6a13 13 0 1 0 26 0a13 13 0 1 0-26 0M915.1 2972.3a13 13 0 1 0 26 0a13 13 0 1 0-26 0M902.8 2979.6a13 13 0 1 0 26 0a13 13 0 1 0-26 0M890.7 2988.3a13 13 0 1 0 26 0a13 13 0 1 0-26 0M879 2991.9a13 13 0 1 0 26 0a13 13 0 1 0-26 0M867.5 2995.1a13 13 0 1 0 26 0a13 13 0 1 0-26 0M856.2 2998a13 13 0 1 0 26 0a13 13 0 1 0-26 0M845.2 3000.5a13 13 0 1 0 26 0a13 13 0 1 0-26 0M834.5 3002a13 13 0 1 0 26 0a13 13 0 1 0-26 0M824 3003.3a13 13 0 1 0 26 0a13 13 0 1 0-26 0M813.7 3004.6a13 13 0 1 0 26 0a13 13 0 1 0-26 0M803.6 3005.7a13 13 0 1 0 26 0a13 13 0 1 0-26 0M793.7 3006.8a13 13 0 1 0 26 0a13 13 0 1 0-26 0M784.1 3007.7a13 13 0 1 0 26 0a13 13 0 1 0-26 0M774.6 3007.8a13 13 0 1 0 26 0a13 13 0 1 0-26 0M765.4 3007.9a13 13 0 1 0 26 0a13 13 0 1 0-26 0M756.3 3007.9a13 13 0 1 0 26 0a13 13 0 1 0-26 0M747.4 3008a13 13 0 1 0 26 0a13 13 0 1 0-26 0M738.7 3008.1a13 13 0 1 0 26 0a13 13 0 1 0-26 0M730.1 3008.2a13 13 0 1 0 26 0a13 13 0 1 0-26 0M721.8 3008.2a13 13 0 1 0 26 0a13 13 0 1 0-26 0M713.5 3008.3a13 13 0 1 0 26 0a13 13 0 1 0-26 0M705.5 3008.3a13 13 0 1 0 26 0a13 13 0 1 0-26 0M697.6 3008.3a13 13 0 1 0 26 0a13 13 0 1 0-26 0M689.8 3008.3a13 13 0 1 0 26 0a13 13 0 1 0-26 0M682.2 3008.3a13 13 0 1 0 26 0a13 13 0 1 0-26 0M674.7 3008.3a13 13 0 1 0 26 0a13 13 0 1 0-26 0M667.4 3008.3a13 13 0 1 0 26 0a13 13 0 1 0-26 0M660.2 3008.3a13 13 0 1 0 26 0a13 13 0 1 0-26 0M653.1 3008.3a13 13 0 1 0 26 0a13 13 0 1 0-26 0M646.1 3008.3a13 13 0 1 0 26 0a13 13 0 1 0-26 0M639.3 3008.3a13 13 0 1 0 26 0a13 13 0 1 0-26 0M632.6 3008.3a13 13 0 1 0 26 0a13 13 0 1 0-26 0M626 3008.3a13 13 0 1 0 26 0a13 13 0 1 0-26 0M619.5 3008.3a13 13 0 1 0 26 0a13 13 0 1 0-26 0M613.1 3008.3a13 13 0 1 0 26 0a13 13 0 1 0-26 0M606.8 3008.3a13 13 0 1 0 26 0a13 13 0 1 0-26 0M600.7 3008.3a13 13 0 1 0 26 0a13 13 0 1 0-26 0M594.6 3008.3a13 13 0 1 0 26 0a13 13 0 1 0-26 0M588.6 3008.3a13 13 0 1 0 26 0a13 13 0 1 0-26 0M582.8 3008.3a13 13 0 1 0 26 0a13 13 0 1 0-26 0M577 3008.3a13 13 0 1 0 26 0a13 13 0 1 0-26 0M571.3 3008.3a13 13 0 1 0 26 0a13 13 0 1 0-26 0M565.7 3008.3a13 13 0 1 0 26 0a13 13 0 1 0-26 0M560.2 3008.3a13 13 0 1 0 26 0a13 13 0 1 0-26 0M554.8 3008.3a13 13 0 1 0 26 0a13 13 0 1 0-26 0M549.5 3008.3a13 13 0 1 0 26 0a13 13 0 1 0-26 0M544.2 3008.3a13 13 0 1 0 26 0a13 13 0 1 0-26 0M539.1 3008.3a13 13 0 1 0 26 0a13 13 0 1 0-26 0M534 3008.4a13 13 0 1 0 26 0a13 13 0 1 0-26 0M529 3008.4a13 13 0 1 0 26 0a13 13 0 1 0-26 0M524 3008.4a13 13 0 1 0 26 0a13 13 0 1 0-26 0M519.1 3008.4a13 13 0 1 0 26 0a13 13 0 1 0-26 0M514.4 3008.4a13 13 0 1 0 26 0a13 13 0 1 0-26 0M509.6 3008.4a13 13 0 1 0 26 0a13 13 0 1 0-26 0M505 3008.4a13 13 0 1 0 26 0a13 13 0 1 0-26 0M500.4 3008.2a13 13 0 1 0 26 0a13 13 0 1 0-26 0M495.9 3008.1a13 13 0 1 0 26 0a13 13 0 1 0-26 0M491.4 3007.9a13 13 0 1 0 26 0a13 13 0 1 0-26 0M487 3007.8a13 13 0 1 0 26 0a13 13 0 1 0-26 0M482.7 3007.6a13 13 0 1 0 26 0a13 13 0 1 0-26 0M478.4 3007.4a13 13 0 1 0 26 0a13 13 0 1 0-26 0M474.2 3007.3a13 13 0 1 0 26 0a13 13 0 1 0-26 0M470 3007.1a13 13 0 1 0 26 0a13 13 0 1 0-26 0M465.9 3007a13 13 0 1 0 26 0a13 13 0 1 0-26 0M461.9 3006.8a13 13 0 1 0 26 0a13 13 0 1 0-26 0M457.9 3006.5a13 13 0 1 0 26 0a13 13 0 1 0-26 0M453.9 3006.2a13 13 0 1 0 26 0a13 13 0 1 0-26 0M450 3005.9a13 13 0 1 0 26 0a13 13 0 1 0-26 0M446.2 3005.6a13 13 0 1 0 26 0a13 13 0 1 0-26 0M442.4 3005.3a13 13 0 1 0 26 0a13 13 0 1 0-26 0M438.7 3005a13 13 0 1 0 26 0a13 13 0 1 0-26 0M435 3004.7a13 13 0 1 0 26 0a13 13 0 1 0-26 0M431.4 3004.4a13 13 0 1 0 26 0a13 13 0 1 0-26 0M427.8 3004.2a13 13 0 1 0 26 0a13 13 0 1 0-26 0M424.2 3003.9a13 13 0 1 0 26 0a13 13 0 1 0-26 0M420.7 3003.7a13 13 0 1 0 26 0a13 13 0 1 0-26 0M417.2 3003.4a13 13 0 1 0 26 0a13 13 0 1 0-26 0M413.8 3003.2a13 13 0 1 0 26 0a13 13 0 1 0-26 0M410.5 3002.9a13 13 0 1 0 26 0a13 13 0 1 0-26 0M407.1 3002.6a13 13 0 1 0 26 0a13 13 0 1 0-26 0M403.8 3002.5a13 13 0 1 0 26 0a13 13 0 1 0-26 0M400.6 3002.4a13 13 0 1 0 26 0a13 13 0 1 0-26 0M397.4 3002.3a13 13 0 1 0 26 0a13 13 0 1 0-26 0M394.2 3002.1a13 13 0 1 0 26 0a13 13 0 1 0-26 0M391 3002a13 13 0 1 0 26 0a13 13 0 1 0-26 0M387.9 3001.9a13 13 0 1 0 26 0a13 13 0 1 0-26 0M384.9 3001.8a13 13 0 1 0 26 0a13 13 0 1 0-26 0M381.9 3001.6a13 13 0 1 0 26 0a13 13 0 1 0-26 0M378.9 3001.5a13 13 0 1 0 26 0a13 13 0 1 0-26 0M375.9 3001.4a13 13 0 1 0 26 0a13 13 0 1 0-26 0M373 3001.2a13 13 0 1 0 26 0a13 13 0 1 0-26 0M370.1 3001.1a13 13 0 1 0 26 0a13 13 0 1 0-26 0M367.2 3001a13 13 0 1 0 26 0a13 13 0 1 0-26 0M364.4 3000.8a13 13 0 1 0 26 0a13 13 0 1 0-26 0M361.6 3000.7a13 13 0 1 0 26 0a13 13 0 1 0-26 0M358.8 3000.5a13 13 0 1 0 26 0a13 13 0 1 0-26 0M356.1 3000.4a13 13 0 1 0 26 0a13 13 0 1 0-26 0M353.4 3000.3a13 13 0 1 0 26 0a13 13 0 1 0-26 0M350.7 3000.1a13 13 0 1 0 26 0a13 13 0 1 0-26 0M348.1 3000a13 13 0 1 0 26 0a13 13 0 1 0-26 0M345.5 2999.8a13 13 0 1 0 26 0a13 13 0 1 0-26 0M342.9 2999.6a13 13 0 1 0 26 0a13 13 0 1 0-26 0M340.3 2999.5a13 13 0 1 0 26 0a13 13 0 1 0-26 0M337.8 2999.3a13 13 0 1 0 26 0a13 13 0 1 0-26 0M335.3 2999.1a13 13 0 1 0 26 0a13 13 0 1 0-26 0M332.8 2998.9a13 13 0 1 0 26 0a13 13 0 1 0-26 0M330.4 2998.7a13 13 0 1 0 26 0a13 13 0 1 0-26 0M327.9 2998.5a13 13 0 1 0 26 0a13 13 0 1 0-26 0M325.5 2998.3a13 13 0 1 0 26 0a13 13 0 1 0-26 0M323.2 2998.1a13 13 0 1 0 26 0a13 13 0 1 0-26 0M320.8 2997.9a13 13 0 1 0 26 0a13 13 0 1 0-26 0M318.5 2997.7a13 13 0 1 0 26 0a13 13 0 1 0-26 0M316.2 2997.5a13 13 0 1 0 26 0a13 13 0 1 0-26 0M313.9 2997.3a13 13 0 1 0 26 0a13 13 0 1 0-26 0M311.6 2997.1a13 13 0 1 0 26 0a13 13 0 1 0-26 0M309.4 2996.9a13 13 0 1 0 26 0a13 13 0 1 0-26 0M307.2 2996.7a13 13 0 1 0 26 0a13 13 0 1 0-26 0M305 2996.5a13 13 0 1 0 26 0a13 13 0 1 0-26 0M302.8 2996.3a13 13 0 1 0 26 0a13 13 0 1 0-26 0M300.7 2996.1a13 13 0 1 0 26 0a13 13 0 1 0-26 0M298.6 2995.9a13 13 0 1 0 26 0a13 13 0 1 0-26 0M296.5 2995.7a13 13 0 1 0 26 0a13 13 0 1 0-26 0M294.4 2995.5a13 13 0 1 0 26 0a13 13 0 1 0-26 0M292.3 2995.3a13 13 0 1 0 26 0a13 13 0 1 0-26 0M290.3 2995.1a13 13 0 1 0 26 0a13 13 0 1 0-26 0M288.2 2994.9a13 13 0 1 0 26 0a13 13 0 1 0-26 0M286.2 2994.7a13 13 0 1 0 26 0a13 13 0 1 0-26 0M284.3 2994.5a13 13 0 1 0 26 0a13 13 0 1 0-26 0M282.3 2994.2a13 13 0 1 0 26 0a13 13 0 1 0-26 0M280.3 2994a13 13 0 1 0 26 0a13 13 0 1 0-26 0M278.4 2993.8a13 13 0 1 0 26 0a13 13 0 1 0-26 0M276.5 2993.6a13 13 0 1 0 26 0a13 13 0 1 0-26 0M274.6 2993.4a13 13 0 1 0 26 0a13 13 0 1 0-26 0M272.7 2993.1a13 13 0 1 0 26 0a13 13 0 1 0-26 0M270.9 2992.9a13 13 0 1 0 26 0a13 13 0 1 0-26 0M269 2992.7a13 13 0 1 0 26 0a13 13 0 1 0-26 0M267.2 2992.5a13 13 0 1 0 26 0a13 13 0 1 0-26 0" fill="#000000"/>
<polyline points="2081,2348.6 2027.3,2322.1 1976.2,2291.8 1927.4,2262 1880.9,2232.5 1836.4,2199.8 1793.9,2168.4 1753.2,2138.7 1714.2,2112.2 1676.7,2091.1 1640.8,2073.4 1606.3,2059.9 1573.1,2049.6 1541.1,2043.7 1510.4,2041.8 1480.7,2039.9 1452.1,2042 1424.6,2050.7 1397.9,2069 1372.2,2096 1347.3,2137.9 1323.3,2186 1300,2237.9 1277.5,2301.5 1255.6,2368.7 1234.5,2426.5 1213.9,2502 1194,2584.3 1174.7,2672.4 1155.9,2759.2 1137.7,2839.9 1120,2894.1 1102.8,2934.6 1086,2954.8 1069.7,2968.7 1053.9,2982 1038.4,2991.2 1023.4,2998.1 1008.7,3004.3 994.4,3007.5 980.5,3007.9 966.9,3007.6 953.7,3007.3 940.7,3007.1 928.1,3007.1 915.8,3007.1 903.7,3007.1 892,3007.1 880.5,3007.1 869.2,3007.1 858.2,3007.1 847.5,3007.1 837,3007.1 826.7,3007.1 816.6,3007.1 806.7,3007.2 797.1,3007.2 787.6,3007.3 778.4,3007.3 769.3,3007.4 760.4,3007.4 751.7,3007.4 743.1,3007.5 734.8,3007.5 726.5,3007.6 718.5,3007.6 710.6,3007.7 702.8,3007.7 695.2,3007.7 687.7,3007.9 680.4,3008 673.2,3008.2 666.1,3008.3 659.1,3008.4 652.3,3008.6 645.6,3008.7 639,3008.8 632.5,3009 626.1,3009.1 619.8,3009.2 613.7,3009.4 607.6,3009.5 601.6,3009.6 595.8,3009.7 590,3009.8 584.3,3010.1 578.7,3010.4 573.2,3010.7 567.8,3011 562.5,3011.2 557.2,3011.5 552.1,3011.7 547,3012 542,3012.2 537,3012.4 532.1,3012.6 527.4,3012.7 522.6,3012.8 518,3013 513.4,3013.1 508.9,3013.2 504.4,3013.3 500,3013.4 495.7,3013.5 491.4,3013.6 487.2,3013.8 483,3013.9 478.9,3014 474.9,3014.1 470.9,3014.2 466.9,3014.3 463,3014.4 459.2,3014.5 455.4,3014.6 451.7,3014.7 448,3014.8 444.4,3014.9 440.8,3015 437.2,3015.1 433.7,3015.1 430.2,3015.2 426.8,3015.2 423.5,3015.1 420.1,3015 416.8,3014.9 413.6,3014.9 410.4,3014.8 407.2,3014.7 404,3014.6 400.9,3014.5 397.9,3014.5 394.9,3014.4 391.9,3014.3 388.9,3014.2 386,3014.1 383.1,3014 380.2,3014 377.4,3013.9 374.6,3013.8 371.8,3013.7 369.1,3013.6 366.4,3013.5 363.7,3013.4 361.1,3013.3 358.5,3013.2 355.9,3013.1 353.3,3013 350.8,3012.9 348.3,3012.8 345.8,3012.7 343.4,3012.6 340.9,3012.5 338.5,3012.4 336.2,3012.3 333.8,3012.2 331.5,3012.1 329.2,3012 326.9,3011.9 324.6,3011.7 322.4,3011.6 320.2,3011.5 318,3011.3 315.8,3011.2 313.7,3011 311.6,3010.8 309.5,3010.6 307.4,3010.4 305.3,3010.2 303.3,3010 301.2,3009.8 299.2,3009.6 297.3,3009.4 295.3,3009.2 293.3,3008.9 291.4,3008.7 289.5,3008.5 287.6,3008.2 285.7,3008 283.9,3007.8 282,3007.5 280.2,3007.3" fill="none" stroke="#ff0000" stroke-width="4.8" stroke-linejoin="round"/>
<path d="M2067.5 2335.1h27v27h-27zM2013.8 2308.6h27v27h-27zM1962.7 2278.3h27v27h-27zM1913.9 2248.5h27v27h-27zM1867.4 2219h27v27h-27zM1822.9 2186.3h27v27h-27zM1780.4 2154.9h27v27h-27zM1739.7 2125.2h27v27h-27zM1700.7 2098.7h27v27h-27zM1663.2 2077.6h27v27h-27zM1627.3 2059.9h27v27h-27zM1592.8 2046.4h27v27h-27zM1559.6 2036.1h27v27h-27zM1527.6 2030.2h27v27h-27zM1496.9 2028.3h27v27h-27zM1467.2 2026.4h27v27h-27zM1438.6 2028.5h27v27h-27zM1411.1 2037.2h27v27h-27zM1384.4 2055.5h27v27h-27zM1358.7 2082.5h27v27h-27zM1333.8 2124.4h27v27h-27zM1309.8 2172.5h27v27h-27zM1286.5 2224.4h27v27h-27zM1264 2288h27v27h-27zM1242.1 2355.2h27v27h-27zM1221 2413h27v27h-27zM1200.4 2488.5h27v27h-27zM1180.5 2570.8h27v27h-27zM1161.2 2658.9h27v27h-27zM1142.4 2745.7h27v27h-27zM1124.2 2826.4h27v27h-27zM1106.5 2880.6h27v27h-27zM1089.3 2921.1h27v27h-27zM1072.5 2941.3h27v27h-27zM1056.2 2955.2h27v27h-27zM1040.4 2968.5h27v27h-27zM1024.9 2977.7h27v27h-27zM1009.9 2984.6h27v27h-27zM995.2 2990.8h27v27h-27zM980.9 2994h27v27h-27zM967 2994.4h27v27h-27zM953.4 2994.1h27v27h-27zM940.2 2993.8h27v27h-27zM927.2 2993.6h27v27h-27zM914.6 2993.6h27v27h-27zM902.3 2993.6h27v27h-27zM890.2 2993.6h27v27h-27zM878.5 2993.6h27v27h-27zM867 2993.6h27v27h-27zM855.7 2993.6h27v27h-27zM844.7 2993.6h27v27h-27zM834 2993.6h27v27h-27zM823.5 2993.6h27v27h-27zM813.2 2993.6h27v27h-27zM803.1 2993.6h27v27h-27zM793.2 2993.7h27v27h-27zM783.6 2993.7h27v27h-27zM774.1 2993.8h27v27h-27zM764.9 2993.8h27v27h-27zM755.8 2993.9h27v27h-27zM746.9 2993.9h27v27h-27zM738.2 2993.9h27v27h-27zM729.6 2994h27v27h-27zM721.3 2994h27v27h-27zM713 2994.1h27v27h-27zM705 2994.1h27v27h-27zM697.1 2994.2h27v27h-27zM689.3 2994.2h27v27h-27zM681.7 2994.2h27v27h-27zM674.2 2994.4h27v27h-27zM666.9 2994.5h27v27h-27zM659.7 2994.7h27v27h-27zM652.6 2994.8h27v27h-27zM645.6 2994.9h27v27h-27zM638.8 2995.1h27v27h-27zM632.1 2995.2h27v27h-27zM625.5 2995.3h27v27h-27zM619 2995.5h27v27h-27zM612.6 2995.6h27v27h-27zM606.3 2995.7h27v27h-27zM600.2 2995.9h27v27h-27zM594.1 2996h27v27h-27zM588.1 2996.1h27v27h-27zM582.3 2996.2h27v27h-27zM576.5 2996.3h27v27h-27zM570.8 2996.6h27v27h-27zM565.2 2996.9h27v27h-27zM559.7 2997.2h27v27h-27zM554.3 2997.5h27v27h-27zM549 2997.7h27v27h-27zM543.7 2998h27v27h-27zM538.6 2998.2h27v27h-27zM533.5 2998.5h27v27h-27zM528.5 2998.7h27v27h-27zM523.5 2998.9h27v27h-27zM518.6 2999.1h27v27h-27zM513.9 2999.2h27v27h-27zM509.1 2999.3h27v27h-27zM504.5 2999.5h27v27h-27zM499.9 2999.6h27v27h-27zM495.4 2999.7h27v27h-27zM490.9 2999.8h27v27h-27zM486.5 2999.9h27v27h-27zM482.2 3000h27v27h-27zM477.9 3000.1h27v27h-27zM473.7 3000.3h27v27h-27zM469.5 3000.4h27v27h-27zM465.4 3000.5h27v27h-27zM461.4 3000.6h27v27h-27zM457.4 3000.7h27v27h-27zM453.4 3000.8h27v27h-27zM449.5 3000.9h27v27h-27zM445.7 3001h27v27h-27zM441.9 3001.1h27v27h-27zM438.2 3001.2h27v27h-27zM434.5 3001.3h27v27h-27zM430.9 3001.4h27v27h-27zM427.3 3001.5h27v27h-27zM423.7 3001.6h27v27h-27zM420.2 3001.6h27v27h-27zM416.8 3001.7h27v27h-27zM413.3 3001.7h27v27h-27zM410 3001.6h27v27h-27zM406.6 3001.5h27v27h-27zM403.3 3001.4h27v27h-27zM400.1 3001.4h27v27h-27zM396.9 3001.3h27v27h-27zM393.7 3001.2h27v27h-27zM390.5 3001.1h27v27h-27zM387.4 3001h27v27h-27zM384.4 3001h27v27h-27zM381.4 3000.9h27v27h-27zM378.4 3000.8h27v27h-27zM375.4 3000.7h27v27h-27zM372.5 3000.6h27v27h-27zM369.6 3000.5h27v27h-27zM366.7 3000.5h27v27h-27zM363.9 3000.4h27v27h-27zM361.1 3000.3h27v27h-27zM358.3 3000.2h27v27h-27zM355.6 3000.1h27v27h-27zM352.9 3000h27v27h-27zM350.2 2999.9h27v27h-27zM347.6 2999.8h27v27h-27zM345 2999.7h27v27h-27zM342.4 2999.6h27v27h-27zM339.8 2999.5h27v27h-27zM337.3 2999.4h27v27h-27zM334.8 2999.3h27v27h-27zM332.3 2999.2h27v27h-27zM329.9 2999.1h27v27h-27zM327.4 2999h27v27h-27zM325 2998.9h27v27h-27zM322.7 2998.8h27v27h-27zM320.3 2998.7h27v27h-27zM318 2998.6h27v27h-27zM315.7 2998.5h27v27h-27zM313.4 2998.4h27v27h-27zM311.1 2998.2h27v27h-27zM308.9 2998.1h27v27h-27zM306.7 2998h27v27h-27zM304.5 2997.8h27v27h-27zM302.3 2997.7h27v27h-27zM300.2 2997.5h27v27h-27zM298.1 2997.3h27v27h-27zM296 2997.1h27v27h-27zM293.9 2996.9h27v27h-27zM291.8 2996.7h27v27h-27zM289.8 2996.5h27v27h-27zM287.7 2996.3h27v27h-27zM285.7 2996.1h27v27h-27zM283.8 2995.9h27v27h-27zM281.8 2995.7h27v27h-27zM279.8 2995.4h27v27h-27zM277.9 2995.2h27v27h-27zM276 2995h27v27h-27zM274.1 2994.7h27v27h-27zM272.2 2994.5h27v27h-27zM270.4 2994.3h27v27h-27zM268.5 2994h27v27h-27zM266.7 2993.8h27v27h-27z" fill="#ff0000"/>
<polyline points="2081,2553 2027.3,2558.7 1976.2,2556.7 1927.4,2548.1 1880.9,2524.2 1836.4,2488.7 1793.9,2448.5 1753.2,2399.7 1714.2,2339.4 1676.7,2278 1640.8,2212.8 1606.3,2145.5 1573.1,2077.4 1541.1,2007.8 1510.4,1940.2 1480.7,1880.8 1452.1,1833.7 1424.6,1799.5 1397.9,1790.7 1372.2,1807.5 1347.3,1843.3 1323.3,1892.2 1300,1949.9 1277.5,2019.5 1255.6,2101.2 1234.5,2197 1213.9,2305.8 1194,2430.2 1174.7,2563.4 1155.9,2687.9 1137.7,2793.1 1120,2858.1 1102.8,2906.9 1086,2940.2 1069.7,2959.8 1053.9,2976 1038.4,2985 1023.4,2993 1008.7,2999.6 994.4,3003.6 980.5,3006.9 966.9,3007.1 953.7,3007.3 940.7,3007.6 928.1,3007.8 915.8,3008 903.7,3008.3 892,3008.5 880.5,3008.7 869.2,3008.9 858.2,3009.1 847.5,3009.3 837,3009.5 826.7,3009.7 816.6,3009.9 806.7,3010.1 797.1,3010.2 787.6,3010.4 778.4,3010.6 769.3,3010.8 760.4,3010.9 751.7,3011 743.1,3011 734.8,3011 726.5,3011 718.5,3011 710.6,3011 702.8,3011 695.2,3011 687.7,3011 680.4,3011.1 673.2,3011.1 666.1,3011.1 659.1,3011.1 652.3,3011.1 645.6,3011.1 639,3011.1 632.5,3011.1 626.1,3011.1 619.8,3011.1 613.7,3011.1 607.6,3011.1 601.6,3011.1 595.8,3011.1 590,3011.1 584.3,3011.1 578.7,3011.1 573.2,3011 567.8,3011 562.5,3011 557.2,3010.9 552.1,3010.9 547,3010.9 542,3010.8 537,3010.8 532.1,3010.7 527.4,3010.7 522.6,3010.7 518,3010.6 513.4,3010.6 508.9,3010.6 504.4,3010.4 500,3010.3 495.7,3010.2 491.4,3010 487.2,3009.9 483,3009.7 478.9,3009.6 474.9,3009.4 470.9,3009.3 466.9,3009.1 463,3009 459.2,3008.8 455.4,3008.7 451.7,3008.5 448,3008.4 444.4,3008.2 440.8,3008 437.2,3007.9 433.7,3007.7 430.2,3007.5 426.8,3007.4 423.5,3007.2 420.1,3007 416.8,3007 413.6,3007 410.4,3007 407.2,3006.9 404,3006.9 400.9,3006.9 397.9,3006.9 394.9,3006.9 391.9,3006.9 388.9,3006.8 386,3006.8 383.1,3006.8 380.2,3006.8 377.4,3006.8 374.6,3006.7 371.8,3006.7 369.1,3006.7 366.4,3006.7 363.7,3006.7 361.1,3006.6 358.5,3006.5 355.9,3006.4 353.3,3006.4 350.8,3006.3 348.3,3006.2 345.8,3006.1 343.4,3006 340.9,3005.9 338.5,3005.9 336.2,3005.8 333.8,3005.7 331.5,3005.6 329.2,3005.5 326.9,3005.4 324.6,3005.3 322.4,3005.2 320.2,3005.2 318,3005.1 315.8,3005 313.7,3004.9 311.6,3004.8 309.5,3004.7 307.4,3004.6 305.3,3004.6 303.3,3004.5 301.2,3004.5 299.2,3004.5 297.3,3004.4 295.3,3004.4 293.3,3004.3 291.4,3004.3 289.5,3004.3 287.6,3004.2 285.7,3004.2 283.9,3004.1 282,3004.1 280.2,3004" fill="none" stroke="#00ff00" stroke-width="4.8" stroke-linejoin="round"/>
<path d="M2081 2539.3l13.7 13.7-13.7 13.7-13.7-13.7zM2027.3 2545l13.7 13.7-13.7 13.7-13.7-13.7zM1976.2 2543l13.7 13.7-13.7 13.7-13.7-13.7zM1927.4 2534.4l13.7 13.7-13.7 13.7-13.7-13.7zM1880.9 2510.5l13.7 13.7-13.7 13.7-13.7-13.7zM1836.4 2475l13.7 13.7-13.7 13.7-13.7-13.7zM1793.9 2434.8l13.7 13.7-13.7 13.7-13.7-13.7zM1753.2 2386l13.7 13.7-13.7 13.7-13.7-13.7zM1714.2 2325.7l13.7 13.7-13.7 13.7-13.7-13.7zM1676.7 2264.3l13.7 13.7-13.7 13.7-13.7-13.7zM1640.8 2199.1l13.7 13.7-13.7 13.7-13.7-13.7zM1606.3 2131.8l13.7 13.7-13.7 13.7-13.7-13.7zM1573.1 2063.7l13.7 13.7-13.7 13.7-13.7-13.7zM1541.1 1994.1l13.7 13.7-13.7 13.7-13.7-13.7zM1510.4 1926.5l13.7 13.7-13.7 13.7-13.7-13.7zM1480.7 1867.1l13.7 13.7-13.7 13.7-13.7-13.7zM1452.1 1820l13.7 13.7-13.7 13.7-13.7-13.7zM1424.6 1785.8l13.7 13.7-13.7 13.7-13.7-13.7zM1397.9 1777l13.7 13.7-13.7 13.7-13.7-13.7zM1372.2 1793.8l13.7 13.7-13.7 13.7-13.7-13.7zM1347.3 1829.6l13.7 13.7-13.7 13.7-13.7-13.7zM1323.3 1878.5l13.7 13.7-13.7 13.7-13.7-13.7zM1300 1936.2l13.7 13.7-13.7 13.7-13.7-13.7zM1277.5 2005.8l13.7 13.7-13.7 13.7-13.7-13.7zM1255.6 2087.5l13.7 13.7-13.7 13.7-13.7-13.7zM1234.5 2183.3l13.7 13.7-13.7 13.7-13.7-13.7zM1213.9 2292.1l13.7 13.7-13.7 13.7-13.7-13.7zM1194 2416.5l13.7 13.7-13.7 13.7-13.7-13.7zM1174.7 2549.7l13.7 13.7-13.7 13.7-13.7-13.7zM1155.9 2674.2l13.7 13.7-13.7 13.7-13.7-13.7zM1137.7 2779.4l13.7 13.7-13.7 13.7-13.7-13.7zM1120 2844.4l13.7 13.7-13.7 13.7-13.7-13.7zM1102.8 2893.2l13.7 13.7-13.7 13.7-13.7-13.7zM1086 2926.5l13.7 13.7-13.7 13.7-13.7-13.7zM1069.7 2946.1l13.7 13.7-13.7 13.7-13.7-13.7zM1053.9 2962.3l13.7 13.7-13.7 13.7-13.7-13.7zM1038.4 2971.3l13.7 13.7-13.7 13.7-13.7-13.7zM1023.4 2979.3l13.7 13.7-13.7 13.7-13.7-13.7zM1008.7 2985.9l13.7 13.7-13.7 13.7-13.7-13.7zM994.4 2989.9l13.7 13.7-13.7 13.7-13.7-13.7zM980.5 2993.2l13.7 13.7-13.7 13.7-13.7-13.7zM966.9 2993.4l13.7 13.7-13.7 13.7-13.7-13.7zM953.7 2993.6l13.7 13.7-13.7 13.7-13.7-13.7zM940.7 2993.9l13.7 13.7-13.7 13.7-13.7-13.7zM928.1 2994.1l13.7 13.7-13.7 13.7-13.7-13.7zM915.8 2994.3l13.7 13.7-13.7 13.7-13.7-13.7zM903.7 2994.6l13.7 13.7-13.7 13.7-13.7-13.7zM892 2994.8l13.7 13.7-13.7 13.7-13.7-13.7zM880.5 2995l13.7 13.7-13.7 13.7-13.7-13.7zM869.2 2995.2l13.7 13.7-13.7 13.7-13.7-13.7zM858.2 2995.4l13.7 13.7-13.7 13.7-13.7-13.7zM847.5 2995.6l13.7 13.7-13.7 13.7-13.7-13.7zM837 2995.8l13.7 13.7-13.7 13.7-13.7-13.7zM826.7 2996l13.7 13.7-13.7 13.7-13.7-13.7zM816.6 2996.2l13.7 13.7-13.7 13.7-13.7-13.7zM806.7 2996.4l13.7 13.7-13.7 13.7-13.7-13.7zM797.1 2996.5l13.7 13.7-13.7 13.7-13.7-13.7zM787.6 2996.7l13.7 13.7-13.7 13.7-13.7-13.7zM778.4 2996.9l13.7 13.7-13.7 13.7-13.7-13.7zM769.3 2997.1l13.7 13.7-13.7 13.7-13.7-13.7zM760.4 2997.2l13.7 13.7-13.7 13.7-13.7-13.7zM751.7 2997.3l13.7 13.7-13.7 13.7-13.7-13.7zM743.1 2997.3l13.7 13.7-13.7 13.7-13.7-13.7zM734.8 2997.3l13.7 13.7-13.7 13.7-13.7-13.7zM726.5 2997.3l13.7 13.7-13.7 13.7-13.7-13.7zM718.5 2997.3l13.7 13.7-13.7 13.7-13.7-13.7zM710.6 2997.3l13.7 13.7-13.7 13.7-13.7-13.7zM702.8 2997.3l13.7 13.7-13.7 13.7-13.7-13.7zM695.2 2997.3l13.7 13.7-13.7 13.7-13.7-13.7zM687.7 2997.3l13.7 13.7-13.7 13.7-13.7-13.7zM680.4 2997.4l13.7 13.7-13.7 13.7-13.7-13.7zM673.2 2997.4l13.7 13.7-13.7 13.7-13.7-13.7zM666.1 2997.4l13.7 13.7-13.7 13.7-13.7-13.7zM659.1 2997.4l13.7 13.7-13.7 13.7-13.7-13.7zM652.3 2997.4l13.7 13.7-13.7 13.7-13.7-13.7zM645.6 2997.4l13.7 13.7-13.7 13.7-13.7-13.7zM639 2997.4l13.7 13.7-13.7 13.7-13.7-13.7zM632.5 2997.4l13.7 13.7-13.7 13.7-13.7-13.7zM626.1 2997.4l13.7 13.7-13.7 13.7-13.7-13.7zM619.8 2997.4l13.7 13.7-13.7 13.7-13.7-13.7zM613.7 2997.4l13.7 13.7-13.7 13.7-13.7-13.7zM607.6 2997.4l13.7 13.7-13.7 13.7-13.7-13.7zM601.6 2997.4l13.7 13.7-13.7 13.7-13.7-13.7zM595.8 2997.4l13.7 13.7-13.7 13.7-13.7-13.7zM590 2997.4l13.7 13.7-13.7 13.7-13.7-13.7zM584.3 2997.4l13.7 13.7-13.7 13.7-13.7-13.7zM578.7 2997.4l13.7 13.7-13.7 13.7-13.7-13.7zM573.2 2997.3l13.7 13.7-13.7 13.7-13.7-13.7zM567.8 2997.3l13.7 13.7-13.7 13.7-13.7-13.7zM562.5 2997.3l13.7 13.7-13.7 13.7-13.7-13.7zM557.2 2997.2l13.7 13.7-13.7 13.7-13.7-13.7zM552.1 2997.2l13.7 13.7-13.7 13.7-13.7-13.7zM547 2997.2l13.7 13.7-13.7 13.7-13.7-13.7zM542 2997.1l13.7 13.7-13.7 13.7-13.7-13.7zM537 2997.1l13.7 13.7-13.7 13.7-13.7-13.7zM532.1 2997l13.7 13.7-13.7 13.7-13.7-13.7zM527.4 2997l13.7 13.7-13.7 13.7-13.7-13.7zM522.6 2997l13.7 13.7-13.7 13.7-13.7-13.7zM518 2996.9l13.7 13.7-13.7 13.7-13.7-13.7zM513.4 2996.9l13.7 13.7-13.7 13.7-13.7-13.7zM508.9 2996.9l13.7 13.7-13.7 13.7-13.7-13.7zM504.4 2996.7l13.7 13.7-13.7 13.7-13.7-13.7zM500 2996.6l13.7 13.7-13.7 13.7-13.7-13.7zM495.7 2996.5l13.7 13.7-13.7 13.7-13.7-13.7zM491.4 2996.3l13.7 13.7-13.7 13.7-13.7-13.7zM487.2 2996.2l13.7 13.7-13.7 13.7-13.7-13.7zM483 2996l13.7 13.7-13.7 13.7-13.7-13.7zM478.9 2995.9l13.7 13.7-13.7 13.7-13.7-13.7zM474.9 2995.7l13.7 13.7-13.7 13.7-13.7-13.7zM470.9 2995.6l13.7 13.7-13.7 13.7-13.7-13.7zM466.9 2995.4l13.7 13.7-13.7 13.7-13.7-13.7zM463 2995.3l13.7 13.7-13.7 13.7-13.7-13.7zM459.2 2995.1l13.7 13.7-13.7 13.7-13.7-13.7zM455.4 2995l13.7 13.7-13.7 13.7-13.7-13.7zM451.7 2994.8l13.7 13.7-13.7 13.7-13.7-13.7zM448 2994.7l13.7 13.7-13.7 13.7-13.7-13.7zM444.4 2994.5l13.7 13.7-13.7 13.7-13.7-13.7zM440.8 2994.3l13.7 13.7-13.7 13.7-13.7-13.7zM437.2 2994.2l13.7 13.7-13.7 13.7-13.7-13.7zM433.7 2994l13.7 13.7-13.7 13.7-13.7-13.7zM430.2 2993.8l13.7 13.7-13.7 13.7-13.7-13.7zM426.8 2993.7l13.7 13.7-13.7 13.7-13.7-13.7zM423.5 2993.5l13.7 13.7-13.7 13.7-13.7-13.7zM420.1 2993.3l13.7 13.7-13.7 13.7-13.7-13.7zM416.8 2993.3l13.7 13.7-13.7 13.7-13.7-13.7zM413.6 2993.3l13.7 13.7-13.7 13.7-13.7-13.7zM410.4 2993.3l13.7 13.7-13.7 13.7-13.7-13.7zM407.2 2993.2l13.7 13.7-13.7 13.7-13.7-13.7zM404 2993.2l13.7 13.7-13.7 13.7-13.7-13.7zM400.9 2993.2l13.7 13.7-13.7 13.7-13.7-13.7zM397.9 2993.2l13.7 13.7-13.7 13.7-13.7-13.7zM394.9 2993.2l13.7 13.7-13.7 13.7-13.7-13.7zM391.9 2993.2l13.7 13.7-13.7 13.7-13.7-13.7zM388.9 2993.1l13.7 13.7-13.7 13.7-13.7-13.7zM386 2993.1l13.7 13.7-13.7 13.7-13.7-13.7zM383.1 2993.1l13.7 13.7-13.7 13.7-13.7-13.7zM380.2 2993.1l13.7 13.7-13.7 13.7-13.7-13.7zM377.4 2993.1l13.7 13.7-13.7 13.7-13.7-13.7zM374.6 2993l13.7 13.7-13.7 13.7-13.7-13.7zM371.8 2993l13.7 13.7-13.7 13.7-13.7-13.7zM369.1 2993l13.7 13.7-13.7 13.7-13.7-13.7zM366.4 2993l13.7 13.7-13.7 13.7-13.7-13.7zM363.7 2993l13.7 13.7-13.7 13.7-13.7-13.7zM361.1 2992.9l13.7 13.7-13.7 13.7-13.7-13.7zM358.5 2992.8l13.7 13.7-13.7 13.7-13.7-13.7zM355.9 2992.7l13.7 13.7-13.7 13.7-13.7-13.7zM353.3 2992.7l13.7 13.7-13.7 13.7-13.7-13.7zM350.8 2992.6l13.7 13.7-13.7 13.7-13.7-13.7zM348.3 2992.5l13.7 13.7-13.7 13.7-13.7-13.7zM345.8 2992.4l13.7 13.7-13.7 13.7-13.7-13.7zM343.4 2992.3l13.7 13.7-13.7 13.7-13.7-13.7zM340.9 2992.2l13.7 13.7-13.7 13.7-13.7-13.7zM338.5 2992.2l13.7 13.7-13.7 13.7-13.7-13.7zM336.2 2992.1l13.7 13.7-13.7 13.7-13.7-13.7zM333.8 2992l13.7 13.7-13.7 13.7-13.7-13.7zM331.5 2991.9l13.7 13.7-13.7 13.7-13.7-13.7zM329.2 2991.8l13.7 13.7-13.7 13.7-13.7-13.7zM326.9 2991.7l13.7 13.7-13.7 13.7-13.7-13.7zM324.6 2991.6l13.7 13.7-13.7 13.7-13.7-13.7zM322.4 2991.5l13.7 13.7-13.7 13.7-13.7-13.7zM320.2 2991.5l13.7 13.7-13.7 13.7-13.7-13.7zM318 2991.4l13.7 13.7-13.7 13.7-13.7-13.7zM315.8 2991.3l13.7 13.7-13.7 13.7-13.7-13.7zM313.7 2991.2l13.7 13.7-13.7 13.7-13.7-13.7zM311.6 2991.1l13.7 13.7-13.7 13.7-13.7-13.7zM309.5 2991l13.7 13.7-13.7 13.7-13.7-13.7zM307.4 2990.9l13.7 13.7-13.7 13.7-13.7-13.7zM305.3 2990.9l13.7 13.7-13.7 13.7-13.7-13.7zM303.3 2990.8l13.7 13.7-13.7 13.7-13.7-13.7zM301.2 2990.8l13.7 13.7-13.7 13.7-13.7-13.7zM299.2 2990.8l13.7 13.7-13.7 13.7-13.7-13.7zM297.3 2990.7l13.7 13.7-13.7 13.7-13.7-13.7zM295.3 2990.7l13.7 13.7-13.7 13.7-13.7-13.7zM293.3 2990.6l13.7 13.7-13.7 13.7-13.7-13.7zM291.4 2990.6l13.7 13.7-13.7 13.7-13.7-13.7zM289.5 2990.6l13.7 13.7-13.7 13.7-13.7-13.7zM287.6 2990.5l13.7 13.7-13.7 13.7-13.7-13.7zM285.7 2990.5l13.7 13.7-13.7 13.7-13.7-13.7zM283.9 2990.4l13.7 13.7-13.7 13.7-13.7-13.7zM282 2990.4l13.7 13.7-13.7 13.7-13.7-13.7zM280.2 2990.3l13.7 13.7-13.7 13.7-13.7-13.7z" fill="#00ff00"/>
<polyline points="2081,2331.8 2027.3,2305.5 1976.2,2276.3 1927.4,2244.4 1880.9,2212.3 1836.4,2180 1793.9,2147.2 1753.2,2118.4 1714.2,2092.9 1676.7,2073.1 1640.8,2055.7 1606.3,2042.9 1573.1,2035.5 1541.1,2029.7 1510.4,2026.3 1480.7,2027.6 1452.1,2031 1424.6,2036.4 1397.9,2050.4 1372.2,2072.7 1347.3,2109.2 1323.3,2154 1300,2204.5 1277.5,2260.4 1255.6,2321.4 1234.5,2386.2 1213.9,2456 1194,2533.1 1174.7,2618 1155.9,2701.5 1137.7,2785.3 1120,2849.7 1102.8,2905.5 1086,2924.7 1069.7,2946.3 1053.9,2961.2 1038.4,2973.4 1023.4,2982.6 1008.7,2989.8 994.4,2995 980.5,3002.5 966.9,3008.5 953.7,3012.2 940.7,3013.2 928.1,3014 915.8,3014.8 903.7,3015.5 892,3015.5 880.5,3015.5 869.2,3015.6 858.2,3015.6 847.5,3015.7 837,3015.7 826.7,3015.7 816.6,3015.8 806.7,3015.8 797.1,3015.8 787.6,3015.9 778.4,3015.9 769.3,3015.9 760.4,3015.9 751.7,3016 743.1,3016 734.8,3016 726.5,3016.1 718.5,3016.1 710.6,3016.1 702.8,3016.1 695.2,3016.2 687.7,3016.2 680.4,3016.2 673.2,3016.3 666.1,3016.3 659.1,3016.3 652.3,3016.3 645.6,3016.4 639,3016.4 632.5,3016.4 626.1,3016.4 619.8,3016.4 613.7,3016.5 607.6,3016.5 601.6,3016.5 595.8,3016.5 590,3016.6 584.3,3016.3 578.7,3016.1 573.2,3015.9 567.8,3015.6 562.5,3015.4 557.2,3015.1 552.1,3014.8 547,3014.5 542,3014 537,3013.4 532.1,3012.7 527.4,3012.1 522.6,3011.7 518,3011.2 513.4,3010.7 508.9,3010.2 504.4,3009.7 500,3009.1 495.7,3008.6 491.4,3008.2 487.2,3007.9 483,3007.6 478.9,3007.3 474.9,3007 470.9,3006.7 466.9,3006.3 463,3006 459.2,3005.7 455.4,3005.5 451.7,3005.3 448,3005.2 444.4,3005 440.8,3004.8 437.2,3004.7 433.7,3004.5 430.2,3004.3 426.8,3004.1 423.5,3004 420.1,3003.8 416.8,3003.6 413.6,3003.5 410.4,3003.3 407.2,3003.2 404,3003 400.9,3002.8 397.9,3002.7 394.9,3002.5 391.9,3002.3 388.9,3002.2 386,3002 383.1,3001.8 380.2,3001.6 377.4,3001.5 374.6,3001.3 371.8,3001.1 369.1,3000.9 366.4,3000.7 363.7,3000.5 361.1,3000.3 358.5,3000.1 355.9,2999.9 353.3,2999.7 350.8,2999.5 348.3,2999.3 345.8,2999.1 343.4,2998.9 340.9,2998.7 338.5,2998.6 336.2,2998.4 333.8,2998.2 331.5,2998.1 329.2,2997.9 326.9,2997.7 324.6,2997 322.4,2996.3 320.2,2995.5 318,2994.8 315.8,2994 313.7,2993.6 311.6,2993.2 309.5,2992.8 307.4,2992.5 305.3,2992.1 303.3,2991.7 301.2,2991.3 299.2,2990.9 297.3,2990.5 295.3,2990 293.3,2989.6 291.4,2989.5 289.5,2989.5 287.6,2989.6 285.7,2989.7 283.9,2989.7 282,2989.8 280.2,2989.9" fill="none" stroke="#0000ff" stroke-width="4.8" stroke-linejoin="round"/>
<path d="M2081 2318.6l13.9 26.5h-27.8zM2027.3 2292.3l13.9 26.5h-27.8zM1976.2 2263l13.9 26.5h-27.8zM1927.4 2231.2l13.9 26.5h-27.8zM1880.9 2199.1l13.9 26.5h-27.8zM1836.4 2166.8l13.9 26.5h-27.8zM1793.9 2134l13.9 26.5h-27.8zM1753.2 2105.1l13.9 26.5h-27.8zM1714.2 2079.7l13.9 26.5h-27.8zM1676.7 2059.8l13.9 26.5h-27.8zM1640.8 2042.4l13.9 26.5h-27.8zM1606.3 2029.7l13.9 26.5h-27.8zM1573.1 2022.3l13.9 26.5h-27.8zM1541.1 2016.4l13.9 26.5h-27.8zM1510.4 2013.1l13.9 26.5h-27.8zM1480.7 2014.3l13.9 26.5h-27.8zM1452.1 2017.7l13.9 26.5h-27.8zM1424.6 2023.2l13.9 26.5h-27.8zM1397.9 2037.1l13.9 26.5h-27.8zM1372.2 2059.5l13.9 26.5h-27.8zM1347.3 2096l13.9 26.5h-27.8zM1323.3 2140.8l13.9 26.5h-27.8zM1300 2191.3l13.9 26.5h-27.8zM1277.5 2247.1l13.9 26.5h-27.8zM1255.6 2308.2l13.9 26.5h-27.8zM1234.5 2372.9l13.9 26.5h-27.8zM1213.9 2442.7l13.9 26.5h-27.8zM1194 2519.9l13.9 26.5h-27.8zM1174.7 2604.8l13.9 26.5h-27.8zM1155.9 2688.2l13.9 26.5h-27.8zM1137.7 2772l13.9 26.5h-27.8zM1120 2836.4l13.9 26.5h-27.8zM1102.8 2892.2l13.9 26.5h-27.8zM1086 2911.5l13.9 26.5h-27.8zM1069.7 2933l13.9 26.5h-27.8zM1053.9 2947.9l13.9 26.5h-27.8zM1038.4 2960.1l13.9 26.5h-27.8zM1023.4 2969.3l13.9 26.5h-27.8zM1008.7 2976.6l13.9 26.5h-27.8zM994.4 2981.8l13.9 26.5h-27.8zM980.5 2989.2l13.9 26.5h-27.8zM966.9 2995.3l13.9 26.5h-27.8zM953.7 2999l13.9 26.5h-27.8zM940.7 2999.9l13.9 26.5h-27.8zM928.1 3000.8l13.9 26.5h-27.8zM915.8 3001.5l13.9 26.5h-27.8zM903.7 3002.2l13.9 26.5h-27.8zM892 3002.3l13.9 26.5h-27.8zM880.5 3002.3l13.9 26.5h-27.8zM869.2 3002.3l13.9 26.5h-27.8zM858.2 3002.4l13.9 26.5h-27.8zM847.5 3002.4l13.9 26.5h-27.8zM837 3002.4l13.9 26.5h-27.8zM826.7 3002.5l13.9 26.5h-27.8zM816.6 3002.5l13.9 26.5h-27.8zM806.7 3002.5l13.9 26.5h-27.8zM797.1 3002.6l13.9 26.5h-27.8zM787.6 3002.6l13.9 26.5h-27.8zM778.4 3002.6l13.9 26.5h-27.8zM769.3 3002.7l13.9 26.5h-27.8zM760.4 3002.7l13.9 26.5h-27.8zM751.7 3002.7l13.9 26.5h-27.8zM743.1 3002.8l13.9 26.5h-27.8zM734.8 3002.8l13.9 26.5h-27.8zM726.5 3002.8l13.9 26.5h-27.8zM718.5 3002.8l13.9 26.5h-27.8zM710.6 3002.9l13.9 26.5h-27.8zM702.8 3002.9l13.9 26.5h-27.8zM695.2 3002.9l13.9 26.5h-27.8zM687.7 3003l13.9 26.5h-27.8zM680.4 3003l13.9 26.5h-27.8zM673.2 3003l13.9 26.5h-27.8zM666.1 3003l13.9 26.5h-27.8zM659.1 3003.1l13.9 26.5h-27.8zM652.3 3003.1l13.9 26.5h-27.8zM645.6 3003.1l13.9 26.5h-27.8zM639 3003.1l13.9 26.5h-27.8zM632.5 3003.2l13.9 26.5h-27.8zM626.1 3003.2l13.9 26.5h-27.8zM619.8 3003.2l13.9 26.5h-27.8zM613.7 3003.2l13.9 26.5h-27.8zM607.6 3003.2l13.9 26.5h-27.8zM601.6 3003.3l13.9 26.5h-27.8zM595.8 3003.3l13.9 26.5h-27.8zM590 3003.3l13.9 26.5h-27.8zM584.3 3003.1l13.9 26.5h-27.8zM578.7 3002.9l13.9 26.5h-27.8zM573.2 3002.6l13.9 26.5h-27.8zM567.8 3002.4l13.9 26.5h-27.8zM562.5 3002.1l13.9 26.5h-27.8zM557.2 3001.9l13.9 26.5h-27.8zM552.1 3001.6l13.9 26.5h-27.8zM547 3001.3l13.9 26.5h-27.8zM542 3000.7l13.9 26.5h-27.8zM537 3000.1l13.9 26.5h-27.8zM532.1 2999.4l13.9 26.5h-27.8zM527.4 2998.9l13.9 26.5h-27.8zM522.6 2998.4l13.9 26.5h-27.8zM518 2998l13.9 26.5h-27.8zM513.4 2997.5l13.9 26.5h-27.8zM508.9 2997l13.9 26.5h-27.8zM504.4 2996.4l13.9 26.5h-27.8zM500 2995.9l13.9 26.5h-27.8zM495.7 2995.3l13.9 26.5h-27.8zM491.4 2995l13.9 26.5h-27.8zM487.2 2994.7l13.9 26.5h-27.8zM483 2994.4l13.9 26.5h-27.8zM478.9 2994.1l13.9 26.5h-27.8zM474.9 2993.7l13.9 26.5h-27.8zM470.9 2993.4l13.9 26.5h-27.8zM466.9 2993.1l13.9 26.5h-27.8zM463 2992.7l13.9 26.5h-27.8zM459.2 2992.4l13.9 26.5h-27.8zM455.4 2992.3l13.9 26.5h-27.8zM451.7 2992.1l13.9 26.5h-27.8zM448 2991.9l13.9 26.5h-27.8zM444.4 2991.8l13.9 26.5h-27.8zM440.8 2991.6l13.9 26.5h-27.8zM437.2 2991.4l13.9 26.5h-27.8zM433.7 2991.3l13.9 26.5h-27.8zM430.2 2991.1l13.9 26.5h-27.8zM426.8 2990.9l13.9 26.5h-27.8zM423.5 2990.7l13.9 26.5h-27.8zM420.1 2990.5l13.9 26.5h-27.8zM416.8 2990.4l13.9 26.5h-27.8zM413.6 2990.2l13.9 26.5h-27.8zM410.4 2990.1l13.9 26.5h-27.8zM407.2 2989.9l13.9 26.5h-27.8zM404 2989.8l13.9 26.5h-27.8zM400.9 2989.6l13.9 26.5h-27.8zM397.9 2989.4l13.9 26.5h-27.8zM394.9 2989.3l13.9 26.5h-27.8zM391.9 2989.1l13.9 26.5h-27.8zM388.9 2988.9l13.9 26.5h-27.8zM386 2988.7l13.9 26.5h-27.8zM383.1 2988.6l13.9 26.5h-27.8zM380.2 2988.4l13.9 26.5h-27.8zM377.4 2988.2l13.9 26.5h-27.8zM374.6 2988l13.9 26.5h-27.8zM371.8 2987.9l13.9 26.5h-27.8zM369.1 2987.7l13.9 26.5h-27.8zM366.4 2987.5l13.9 26.5h-27.8zM363.7 2987.3l13.9 26.5h-27.8zM361.1 2987.1l13.9 26.5h-27.8zM358.5 2986.9l13.9 26.5h-27.8zM355.9 2986.7l13.9 26.5h-27.8zM353.3 2986.5l13.9 26.5h-27.8zM350.8 2986.3l13.9 26.5h-27.8zM348.3 2986.1l13.9 26.5h-27.8zM345.8 2985.9l13.9 26.5h-27.8zM343.4 2985.6l13.9 26.5h-27.8zM340.9 2985.5l13.9 26.5h-27.8zM338.5 2985.3l13.9 26.5h-27.8zM336.2 2985.2l13.9 26.5h-27.8zM333.8 2985l13.9 26.5h-27.8zM331.5 2984.8l13.9 26.5h-27.8zM329.2 2984.6l13.9 26.5h-27.8zM326.9 2984.5l13.9 26.5h-27.8zM324.6 2983.8l13.9 26.5h-27.8zM322.4 2983l13.9 26.5h-27.8zM320.2 2982.3l13.9 26.5h-27.8zM318 2981.5l13.9 26.5h-27.8zM315.8 2980.7l13.9 26.5h-27.8zM313.7 2980.3l13.9 26.5h-27.8zM311.6 2980l13.9 26.5h-27.8zM309.5 2979.6l13.9 26.5h-27.8zM307.4 2979.2l13.9 26.5h-27.8zM305.3 2978.8l13.9 26.5h-27.8zM303.3 2978.4l13.9 26.5h-27.8zM301.2 2978l13.9 26.5h-27.8zM299.2 2977.6l13.9 26.5h-27.8zM297.3 2977.2l13.9 26.5h-27.8zM295.3 2976.8l13.9 26.5h-27.8zM293.3 2976.4l13.9 26.5h-27.8zM291.4 2976.2l13.9 26.5h-27.8zM289.5 2976.3l13.9 26.5h-27.8zM287.6 2976.4l13.9 26.5h-27.8zM285.7 2976.4l13.9 26.5h-27.8zM283.9 2976.5l13.9 26.5h-27.8zM282 2976.5l13.9 26.5h-27.8zM280.2 2976.6l13.9 26.5h-27.8z" fill="#0000ff"/>
<line x1="1209.5" y1="2617.2" x2="920" y2="3010" stroke="#000" stroke-width="9"/>
<polygon points="906,3028.6 911.1,2999 934.1,3014.8" fill="#000"/>
<line x1="1218.2" y1="2521.5" x2="1082" y2="3004" stroke="#ff7f27" stroke-width="8.5"/>
<polygon points="1075.3,3029.7 1068.9,2999 1095.9,3006.6" fill="#ff7f27"/>
</g>
<path d="M225 1359v12.5M314.9 1359v7.5M404.7 1359v7.5M494.6 1359v7.5M584.4 1359v7.5M674.2 1359v12.5M764.1 1359v7.5M854 1359v7.5M943.8 1359v7.5M1033.7 1359v7.5M1123.5 1359v12.5M1213.3 1359v7.5M1303.2 1359v7.5M1393 1359v7.5M1482.9 1359v7.5M1572.8 1359v12.5M1662.6 1359v7.5M1752.5 1359v7.5M1842.3 1359v7.5M1932.2 1359v7.5M2022 1359v12.5M225 85v-12.5M296.9 85v-7.5M368.8 85v-7.5M440.6 85v-7.5M512.5 85v-7.5M584.4 85v-12.5M656.3 85v-7.5M728.2 85v-7.5M800 85v-7.5M871.9 85v-7.5M943.8 85v-12.5M1015.7 85v-7.5M1087.6 85v-7.5M1159.4 85v-7.5M1231.3 85v-7.5M1303.2 85v-12.5M1375.1 85v-7.5M1447 85v-7.5M1518.8 85v-7.5M1590.7 85v-7.5M1662.6 85v-12.5M1734.5 85v-7.5M1806.4 85v-7.5M1878.2 85v-7.5M1950.1 85v-7.5M2022 85v-12.5M225 1359h-12.5M225 1327.2h-7.5M225 1295.3h-7.5M225 1263.5h-7.5M225 1231.6h-7.5M225 1199.8h-12.5M225 1167.9h-7.5M225 1136h-7.5M225 1104.2h-7.5M225 1072.3h-7.5M225 1040.5h-12.5M225 1008.6h-7.5M225 976.8h-7.5M225 945h-7.5M225 913.1h-7.5M225 881.2h-12.5M225 849.4h-7.5M225 817.5h-7.5M225 785.7h-7.5M225 753.9h-7.5M225 722h-12.5M225 690.1h-7.5M225 658.3h-7.5M225 626.5h-7.5M225 594.6h-7.5M225 562.8h-12.5M225 530.9h-7.5M225 499h-7.5M225 467.2h-7.5M225 435.4h-7.5M225 403.5h-12.5M225 371.6h-7.5M225 339.8h-7.5M225 308h-7.5M225 276.1h-7.5M225 244.2h-12.5M225 212.4h-7.5M225 180.5h-7.5M225 148.7h-7.5M225 116.8h-7.5M225 85h-12.5M2021.5 1359h12.5M2021.5 1308h7.5M2021.5 1257.1h7.5M2021.5 1206.1h7.5M2021.5 1155.2h7.5M2021.5 1104.2h12.5M2021.5 1053.2h7.5M2021.5 1002.3h7.5M2021.5 951.3h7.5M2021.5 900.4h7.5M2021.5 849.4h12.5M2021.5 798.4h7.5M2021.5 747.5h7.5M2021.5 696.5h7.5M2021.5 645.6h7.5M2021.5 594.6h12.5M2021.5 543.6h7.5M2021.5 492.7h7.5M2021.5 441.7h7.5M2021.5 390.8h7.5M2021.5 339.8h12.5M2021.5 288.8h7.5M2021.5 237.9h7.5M2021.5 186.9h7.5M2021.5 136h7.5M2021.5 85h12.5" stroke="#000" stroke-width="2.2" fill="none"/>
<path d="M225 1359H2023M225 1360V84M224 85H2023" stroke="#000" stroke-width="2" fill="none"/>
<path d="M2021.5 72.5V1360" stroke="#000" stroke-width="3" fill="none"/>
<path d="M235 3022v12.5M306 3022v7.5M377 3022v7.5M448 3022v7.5M519 3022v7.5M590 3022v12.5M661 3022v7.5M732 3022v7.5M803 3022v7.5M874 3022v7.5M945 3022v12.5M1016 3022v7.5M1087 3022v7.5M1158 3022v7.5M1229 3022v7.5M1300 3022v12.5M1371 3022v7.5M1442 3022v7.5M1513 3022v7.5M1584 3022v7.5M1655 3022v12.5M1726 3022v7.5M1797 3022v7.5M1868 3022v7.5M1939 3022v7.5M2010 3022v12.5M235 1690v-12.5M306 1690v-7.5M377 1690v-7.5M448 1690v-7.5M519 1690v-7.5M590 1690v-12.5M661 1690v-7.5M732 1690v-7.5M803 1690v-7.5M874 1690v-7.5M945 1690v-12.5M1016 1690v-7.5M1087 1690v-7.5M1158 1690v-7.5M1229 1690v-7.5M1300 1690v-12.5M1371 1690v-7.5M1442 1690v-7.5M1513 1690v-7.5M1584 1690v-7.5M1655 1690v-12.5M1726 1690v-7.5M1797 1690v-7.5M1868 1690v-7.5M1939 1690v-7.5M2010 1690v-12.5M235 3022h-12.5M235 2977.6h-7.5M235 2933.2h-7.5M235 2888.8h-7.5M235 2844.4h-7.5M235 2800h-12.5M235 2755.6h-7.5M235 2711.2h-7.5M235 2666.8h-7.5M235 2622.4h-7.5M235 2578h-12.5M235 2533.6h-7.5M235 2489.2h-7.5M235 2444.8h-7.5M235 2400.4h-7.5M235 2356h-12.5M235 2311.6h-7.5M235 2267.2h-7.5M235 2222.8h-7.5M235 2178.4h-7.5M235 2134h-12.5M235 2089.6h-7.5M235 2045.2h-7.5M235 2000.8h-7.5M235 1956.4h-7.5M235 1912h-12.5M235 1867.6h-7.5M235 1823.2h-7.5M235 1778.8h-7.5M235 1734.4h-7.5M235 1690h-12.5M2010 3022h12.5M2010 2968.7h7.5M2010 2915.4h7.5M2010 2862.2h7.5M2010 2808.9h7.5M2010 2755.6h12.5M2010 2702.3h7.5M2010 2649h7.5M2010 2595.8h7.5M2010 2542.5h7.5M2010 2489.2h12.5M2010 2435.9h7.5M2010 2382.6h7.5M2010 2329.4h7.5M2010 2276.1h7.5M2010 2222.8h12.5M2010 2169.5h7.5M2010 2116.2h7.5M2010 2063h7.5M2010 2009.7h7.5M2010 1956.4h12.5M2010 1903.1h7.5M2010 1849.8h7.5M2010 1796.6h7.5M2010 1743.3h7.5M2010 1690h12.5" stroke="#000" stroke-width="2.2" fill="none"/>
<path d="M235 3022H2011M235 3023V1689M234 1690H2011" stroke="#000" stroke-width="2" fill="none"/>
<path d="M2010 1689V3023" stroke="#000" stroke-width="2" fill="none"/>
<text x="41" y="138" font-size="160">a</text>
<text x="205.4" y="1388" font-size="105" text-anchor="end">0</text>
<text x="205.4" y="1228.8" font-size="105" text-anchor="end">1</text>
<text x="205.4" y="1069.5" font-size="105" text-anchor="end">2</text>
<text x="205.4" y="910.2" font-size="105" text-anchor="end">3</text>
<text x="205.4" y="751" font-size="105" text-anchor="end">4</text>
<text x="205.4" y="591.8" font-size="105" text-anchor="end">5</text>
<text x="205.4" y="432.5" font-size="105" text-anchor="end">6</text>
<text x="205.4" y="273.2" font-size="105" text-anchor="end">7</text>
<text x="205.4" y="114" font-size="105" text-anchor="end">8</text>
<text x="225" y="1465" font-size="105.8" text-anchor="middle">200</text>
<text x="674.2" y="1465" font-size="105.8" text-anchor="middle">400</text>
<text x="1123.5" y="1465" font-size="105.8" text-anchor="middle">600</text>
<text x="1572.8" y="1465" font-size="105.8" text-anchor="middle">800</text>
<text x="2022" y="1465" font-size="105.8" text-anchor="middle">1000</text>
<text transform="translate(121.3 717.5) rotate(-90)" font-size="105.4" text-anchor="middle">Kubelka-Munk</text>
<text x="1139" y="1609" font-size="104.5" text-anchor="middle">Wavelength (nm)</text>
<line x1="919" y1="177.2" x2="1089" y2="177.2" stroke="#000000" stroke-width="4.8"/>
<path d="M991 177.2a13 13 0 1 0 26 0a13 13 0 1 0-26 0" fill="#000000"/>
<text x="1121.8" y="204.7" font-size="104.7">CeTPA powder</text>
<line x1="919" y1="298" x2="1089" y2="298" stroke="#ff0000" stroke-width="4.8"/>
<path d="M990.5 284.5h27v27h-27z" fill="#ff0000"/>
<text x="1121.8" y="325.9" font-size="104.7">CeTPA NFs (2.5%)</text>
<line x1="919" y1="418.8" x2="1089" y2="418.8" stroke="#00ff00" stroke-width="4.8"/>
<path d="M1004 405.1l13.7 13.7-13.7 13.7-13.7-13.7z" fill="#00ff00"/>
<text x="1121.8" y="447.1" font-size="104.7">CeTPA NFs (5%)</text>
<line x1="919" y1="539.6" x2="1089" y2="539.6" stroke="#0000ff" stroke-width="4.8"/>
<path d="M1004 526.3l13.9 26.5h-27.8z" fill="#0000ff"/>
<text x="1121.8" y="568.3" font-size="104.7">CeTPA NFs (10%)</text>
<text x="98.6" y="1584.5" font-size="158">b</text>
<text x="214" y="3051" font-size="104" text-anchor="end">0</text>
<text x="214" y="2829" font-size="104" text-anchor="end">1</text>
<text x="214" y="2607" font-size="104" text-anchor="end">2</text>
<text x="214" y="2385" font-size="104" text-anchor="end">3</text>
<text x="214" y="2163" font-size="104" text-anchor="end">4</text>
<text x="214" y="1941" font-size="104" text-anchor="end">5</text>
<text x="214" y="1719" font-size="104" text-anchor="end">6</text>
<text x="235" y="3125.9" font-size="104" text-anchor="middle">1</text>
<text x="590" y="3125.9" font-size="104" text-anchor="middle">2</text>
<text x="945" y="3125.9" font-size="104" text-anchor="middle">3</text>
<text x="1300" y="3125.9" font-size="104" text-anchor="middle">4</text>
<text x="1655" y="3125.9" font-size="104" text-anchor="middle">5</text>
<text x="2010" y="3125.9" font-size="104" text-anchor="middle">6</text>
<text transform="rotate(-90)" font-size="102"><tspan x="-2510.8" y="129.6">(</tspan><tspan x="-2476.7" y="129.6">&#945;</tspan><tspan x="-2417.7" y="129.6">h</tspan><tspan x="-2363.6" y="129.6">&#957;</tspan><tspan x="-2318.8" y="129.6">)</tspan><tspan x="-2282.3" y="92" font-size="68">0.5</tspan></text>
<text x="1122" y="3245.7" font-size="102.6" text-anchor="middle">Energy (eV)</text>
<line x1="247" y1="1749.5" x2="415" y2="1749.5" stroke="#000000" stroke-width="4.8"/>
<path d="M318 1749.5a13 13 0 1 0 26 0a13 13 0 1 0-26 0" fill="#000000"/>
<text x="445" y="1777.3" font-size="97.3">CeTPA powder</text>
<line x1="247" y1="1858.3" x2="415" y2="1858.3" stroke="#ff0000" stroke-width="4.8"/>
<path d="M317.5 1844.8h27v27h-27z" fill="#ff0000"/>
<text x="445" y="1886.5" font-size="97.3">CeTPA NFs (2.5%)</text>
<line x1="247" y1="1967.1" x2="415" y2="1967.1" stroke="#00ff00" stroke-width="4.8"/>
<path d="M331 1953.4l13.7 13.7-13.7 13.7-13.7-13.7z" fill="#00ff00"/>
<text x="445" y="1995.7" font-size="97.3">CeTPA NFs (5%)</text>
<line x1="247" y1="2075.9" x2="415" y2="2075.9" stroke="#0000ff" stroke-width="4.8"/>
<path d="M331 2062.7l13.9 26.5h-27.8z" fill="#0000ff"/>
<text x="445" y="2104.9" font-size="97.3">CeTPA NFs (10%)</text>
</svg></body></html>
